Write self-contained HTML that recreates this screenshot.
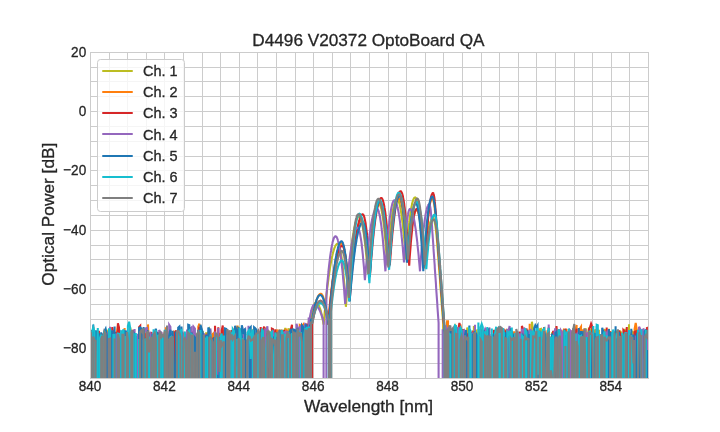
<!DOCTYPE html>
<html><head><meta charset="utf-8"><style>
html,body{margin:0;padding:0;background:#fff;width:720px;height:432px;overflow:hidden}
svg{display:block;will-change:transform}
text{font-family:"Liberation Sans",sans-serif;fill:#262626;stroke:#262626;stroke-width:0.3px}
</style></head><body>
<svg width="720" height="432" viewBox="0 0 720 432">
<rect x="0" y="0" width="720" height="432" fill="#fff"/>

<path d="M90.5 52V379M109.5 52V379M127.5 52V379M146.5 52V379M164.5 52V379M183.5 52V379M202.5 52V379M220.5 52V379M239.5 52V379M257.5 52V379M276.5 52V379M295.5 52V379M313.5 52V379M332.5 52V379M350.5 52V379M369.5 52V379M388.5 52V379M406.5 52V379M425.5 52V379M443.5 52V379M462.5 52V379M481.5 52V379M499.5 52V379M518.5 52V379M536.5 52V379M555.5 52V379M574.5 52V379M592.5 52V379M611.5 52V379M629.5 52V379M648.5 52V379M90 52.5H649M90 67.5H649M90 81.5H649M90 96.5H649M90 111.5H649M90 126.5H649M90 141.5H649M90 156.5H649M90 170.5H649M90 185.5H649M90 200.5H649M90 215.5H649M90 230.5H649M90 245.5H649M90 259.5H649M90 274.5H649M90 289.5H649M90 304.5H649M90 319.5H649M90 334.5H649M90 348.5H649M90 363.5H649M90 378.5H649" stroke="#cccccc" stroke-width="1" fill="none"/>
<defs><clipPath id="ax"><rect x="90" y="52" width="558" height="326"/></clipPath></defs><g clip-path="url(#ax)" fill="none" stroke-width="2.08" stroke-linejoin="miter" stroke-linecap="butt">
<path d="M90.0 6041.3 91.1 6041.3 92.2 367.3 93.3 331.9 94.5 6041.3 95.6 336.9 96.7 333.3 97.8 333.6 98.9 334.4 100.0 339.9 101.2 6041.3 102.3 6041.3 103.4 376.8 104.5 331.2 105.6 6041.3 106.7 329.8 107.9 336.7 109.0 6041.3 110.1 6041.3 111.2 332.0 112.3 6041.3 113.4 6041.3 114.6 338.1 115.7 337.2 116.8 6041.3 117.9 340.2 119.0 339.4 120.1 6041.3 121.2 6041.3 122.4 6041.3 123.5 6041.3 124.6 331.8 125.7 6041.3 126.8 331.9 127.9 336.3 129.1 6041.3 130.2 327.4 131.3 334.7 132.4 6041.3 133.5 6041.3 134.6 336.5 135.8 6041.3 136.9 6041.3 138.0 365.7 139.1 337.2 140.2 330.1 141.3 6041.3 142.5 336.5 143.6 6041.3 144.7 331.3 145.8 330.1 146.9 331.9 148.0 6041.3 149.1 6041.3 150.3 334.1 151.4 333.9 152.5 336.5 153.6 6041.3 154.7 332.2 155.8 338.9 157.0 6041.3 158.1 6041.3 159.2 333.2 160.3 6041.3 161.4 6041.3 162.5 6041.3 163.7 334.5 164.8 6041.3 165.9 335.1 167.0 335.0 168.1 6041.3 169.2 331.0 170.4 337.5 171.5 6041.3 172.6 6041.3 173.7 333.2 174.8 6041.3 175.9 6041.3 177.0 6041.3 178.2 340.0 179.3 334.9 180.4 6041.3 181.5 6041.3 182.6 6041.3 183.7 335.3 184.9 337.6 186.0 6041.3 187.1 333.3 188.2 6041.3 189.3 6041.3 190.4 6041.3 191.6 335.9 192.7 356.8 193.8 333.3 194.9 6041.3 196.0 333.3 197.1 6041.3 198.3 333.1 199.4 6041.3 200.5 6041.3 201.6 377.1 202.7 330.9 203.8 6041.3 204.9 6041.3 206.1 333.2 207.2 333.1 208.3 332.5 209.4 329.0 210.5 331.3 211.6 6041.3 212.8 336.9 213.9 334.4 215.0 332.2 216.1 6041.3 217.2 6041.3 218.3 333.7 219.5 338.0 220.6 338.7 221.7 336.8 222.8 6041.3 223.9 6041.3 225.0 339.6 226.2 333.9 227.3 348.5 228.4 335.2 229.5 337.0 230.6 333.7 231.7 6041.3 232.8 332.8 234.0 331.9 235.1 6041.3 236.2 327.3 237.3 330.3 238.4 6041.3 239.5 329.0 240.7 331.0 241.8 362.6 242.9 6041.3 244.0 336.8 245.1 6041.3 246.2 6041.3 247.4 6041.3 248.5 337.3 249.6 337.7 250.7 6041.3 251.8 363.5 252.9 331.9 254.1 333.8 255.2 6041.3 256.3 6041.3 257.4 335.1 258.5 337.0 259.6 6041.3 260.7 6041.3 261.9 334.4 263.0 336.1 264.1 6041.3 265.2 6041.3 266.3 337.2 267.4 335.0 268.6 6041.3 269.7 331.2 270.8 336.6 271.9 6041.3 273.0 6041.3 274.1 336.7 275.3 6041.3 276.4 6041.3 277.5 338.7 278.6 6041.3 279.7 6041.3 280.8 6041.3 282.0 334.1 283.1 6041.3 284.2 332.4 285.3 328.0 286.4 335.0 287.5 6041.3 288.6 328.3 289.8 332.5 290.9 6041.3 292.0 332.7 293.1 6041.3 294.2 330.6 295.3 359.6 296.5 331.3 297.6 6041.3 298.7 6041.3 299.8 331.1 300.9 332.4 302.0 6041.3 303.2 327.1 304.3 6041.3 305.4 6041.3 305.8 329.7 305.9 329.7 306.1 329.7 306.3 329.7 306.5 328.0 306.7 328.0 306.9 328.0 307.1 328.0 307.2 328.0 307.4 328.0 307.6 6041.3 307.8 6041.3 308.0 6041.3 308.2 6041.3 308.4 6041.3 308.5 6041.3 308.7 322.3 308.9 322.3 309.1 322.3 309.3 322.3 309.5 322.3 309.7 323.4 309.9 322.3 310.0 321.1 310.2 320.0 310.4 319.0 310.6 317.9 310.8 316.9 311.0 316.0 311.2 315.0 311.3 314.1 311.5 313.3 311.7 312.4 311.9 311.6 312.1 310.9 312.3 310.2 312.5 309.5 312.6 308.8 312.8 308.2 313.0 307.6 313.2 307.0 313.4 306.5 313.6 306.0 313.8 305.5 313.9 305.1 314.1 304.7 314.3 304.4 314.5 304.1 314.7 303.8 314.9 303.5 315.1 303.3 315.2 303.1 315.4 303.0 315.6 302.8 315.8 302.8 316.0 302.7 316.2 302.7 316.4 302.7 316.5 302.7 316.7 302.8 316.9 302.9 317.1 303.0 317.3 303.2 317.5 303.4 317.7 303.6 317.8 303.8 318.0 304.1 318.2 304.3 318.4 304.7 318.6 305.0 318.8 305.4 319.0 305.8 319.2 306.2 319.3 306.6 319.5 307.1 319.7 307.6 319.9 308.2 320.1 308.7 320.3 309.3 320.5 309.9 320.6 310.6 320.8 311.3 321.0 312.0 321.2 312.7 321.4 313.4 321.6 314.2 321.8 315.0 321.9 315.9 322.1 316.7 322.3 317.6 322.5 318.5 322.7 319.5 322.9 320.5 323.1 321.5 323.2 322.5 323.4 323.5 323.6 324.6 323.8 322.5 324.0 320.4 324.2 318.4 324.4 316.3 324.5 314.3 324.7 312.4 324.9 310.4 325.1 308.5 325.3 306.6 325.5 304.7 325.7 302.9 325.8 301.1 326.0 299.3 326.2 297.6 326.4 295.8 326.6 294.1 326.8 292.5 327.0 290.8 327.1 289.2 327.3 287.6 327.5 286.1 327.7 284.5 327.9 283.0 328.1 281.6 328.3 280.1 328.5 278.7 328.6 277.3 328.8 276.0 329.0 274.6 329.2 273.3 329.4 272.1 329.6 270.8 329.8 269.6 329.9 268.4 330.1 267.2 330.3 266.1 330.5 265.0 330.7 263.9 330.9 262.9 331.1 261.8 331.2 260.8 331.4 259.9 331.6 258.9 331.8 258.0 332.0 257.1 332.2 256.3 332.4 255.5 332.5 254.7 332.7 253.9 332.9 253.2 333.1 252.4 333.3 251.8 333.5 251.1 333.7 250.5 333.8 249.9 334.0 249.3 334.2 248.7 334.4 248.2 334.6 247.7 334.8 247.3 335.0 246.8 335.1 246.4 335.3 246.0 335.5 245.7 335.7 245.4 335.9 245.1 336.1 244.8 336.3 244.6 336.4 244.4 336.6 244.2 336.8 244.0 337.0 243.9 337.2 243.8 337.4 243.7 337.6 243.7 337.8 243.7 337.9 243.7 338.1 243.8 338.3 244.0 338.5 244.2 338.7 244.5 338.9 244.9 339.1 245.3 339.2 245.8 339.4 246.3 339.6 246.9 339.8 247.6 340.0 248.4 340.2 249.2 340.4 250.1 340.5 251.0 340.7 252.0 340.9 253.1 341.1 254.3 341.3 255.5 341.5 256.7 341.7 258.1 341.8 259.5 342.0 260.9 342.2 262.5 342.4 264.1 342.6 265.7 342.8 267.5 343.0 269.3 343.1 271.1 343.3 273.0 343.5 275.0 343.7 277.1 343.9 279.2 344.1 281.4 344.3 283.6 344.4 286.0 344.6 288.3 344.8 290.8 345.0 293.3 345.2 295.9 345.4 298.5 345.6 301.2 345.7 304.0 345.9 306.8 346.1 304.3 346.3 301.8 346.5 299.3 346.7 296.8 346.9 294.4 347.1 292.0 347.2 289.7 347.4 287.4 347.6 285.1 347.8 282.9 348.0 280.7 348.2 278.6 348.4 276.5 348.5 274.4 348.7 272.3 348.9 270.3 349.1 268.4 349.3 266.4 349.5 264.5 349.7 262.7 349.8 260.9 350.0 259.1 350.2 257.3 350.4 255.6 350.6 254.0 350.8 252.3 351.0 250.7 351.1 249.1 351.3 247.6 351.5 246.1 351.7 244.7 351.9 243.3 352.1 241.9 352.3 240.5 352.4 239.2 352.6 238.0 352.8 236.7 353.0 235.5 353.2 234.4 353.4 233.3 353.6 232.2 353.7 231.1 353.9 230.1 354.1 229.1 354.3 228.2 354.5 227.3 354.7 226.4 354.9 225.6 355.0 224.8 355.2 224.1 355.4 223.3 355.6 222.7 355.8 222.0 356.0 221.4 356.2 220.8 356.4 220.3 356.5 219.8 356.7 219.3 356.9 218.9 357.1 218.5 357.3 218.2 357.5 217.9 357.7 217.6 357.8 217.4 358.0 217.2 358.2 217.0 358.4 216.9 358.6 216.8 358.8 216.7 359.0 216.7 359.1 216.7 359.3 216.8 359.5 216.9 359.7 217.1 359.9 217.3 360.1 217.6 360.3 217.9 360.4 218.3 360.6 218.7 360.8 219.2 361.0 219.7 361.2 220.3 361.4 220.9 361.6 221.6 361.7 222.3 361.9 223.1 362.1 223.9 362.3 224.8 362.5 225.7 362.7 226.7 362.9 227.7 363.0 228.8 363.2 229.9 363.4 231.1 363.6 232.3 363.8 233.6 364.0 234.9 364.2 236.3 364.3 237.7 364.5 239.2 364.7 240.7 364.9 242.3 365.1 243.9 365.3 245.6 365.5 247.3 365.7 249.1 365.8 250.9 366.0 252.8 366.2 254.7 366.4 256.6 366.6 258.7 366.8 260.7 367.0 262.9 367.1 265.0 367.3 267.3 367.5 269.5 367.7 271.9 367.9 274.2 368.1 271.9 368.3 269.6 368.4 267.4 368.6 265.2 368.8 263.0 369.0 260.9 369.2 258.8 369.4 256.8 369.6 254.8 369.7 252.8 369.9 250.9 370.1 249.0 370.3 247.2 370.5 245.4 370.7 243.6 370.9 241.9 371.0 240.2 371.2 238.5 371.4 236.9 371.6 235.3 371.8 233.8 372.0 232.3 372.2 230.9 372.3 229.4 372.5 228.1 372.7 226.7 372.9 225.4 373.1 224.1 373.3 222.9 373.5 221.7 373.6 220.6 373.8 219.5 374.0 218.4 374.2 217.4 374.4 216.4 374.6 215.4 374.8 214.5 375.0 213.7 375.1 212.8 375.3 212.0 375.5 211.3 375.7 210.5 375.9 209.9 376.1 209.2 376.3 208.6 376.4 208.1 376.6 207.5 376.8 207.0 377.0 206.6 377.2 206.2 377.4 205.8 377.6 205.5 377.7 205.2 377.9 204.9 378.1 204.7 378.3 204.6 378.5 204.4 378.7 204.3 378.9 204.3 379.0 204.2 379.2 204.3 379.4 204.4 379.6 204.5 379.8 204.8 380.0 205.0 380.2 205.4 380.3 205.8 380.5 206.3 380.7 206.8 380.9 207.4 381.1 208.1 381.3 208.8 381.5 209.6 381.6 210.4 381.8 211.3 382.0 212.3 382.2 213.4 382.4 214.5 382.6 215.6 382.8 216.9 382.9 218.2 383.1 219.5 383.3 220.9 383.5 222.4 383.7 224.0 383.9 225.6 384.1 227.2 384.3 229.0 384.4 230.8 384.6 232.6 384.8 234.6 385.0 236.6 385.2 238.6 385.4 240.7 385.6 242.9 385.7 245.1 385.9 247.4 386.1 249.8 386.3 252.2 386.5 254.7 386.7 257.3 386.9 259.9 387.0 262.6 387.2 265.3 387.4 262.8 387.6 260.3 387.8 257.9 388.0 255.5 388.2 253.2 388.3 250.9 388.5 248.6 388.7 246.5 388.9 244.3 389.1 242.2 389.3 240.2 389.5 238.2 389.6 236.3 389.8 234.4 390.0 232.5 390.2 230.7 390.4 229.0 390.6 227.3 390.8 225.7 390.9 224.1 391.1 222.5 391.3 221.0 391.5 219.6 391.7 218.2 391.9 216.8 392.1 215.5 392.2 214.3 392.4 213.1 392.6 211.9 392.8 210.8 393.0 209.7 393.2 208.7 393.4 207.8 393.6 206.9 393.7 206.0 393.9 205.2 394.1 204.4 394.3 203.7 394.5 203.1 394.7 202.4 394.9 201.9 395.0 201.4 395.2 200.9 395.4 200.5 395.6 200.1 395.8 199.8 396.0 199.5 396.2 199.3 396.3 199.1 396.5 199.0 396.7 198.9 396.9 198.9 397.1 198.9 397.3 199.0 397.5 199.1 397.6 199.3 397.8 199.6 398.0 199.9 398.2 200.2 398.4 200.6 398.6 201.0 398.8 201.5 398.9 202.1 399.1 202.7 399.3 203.3 399.5 204.1 399.7 204.8 399.9 205.6 400.1 206.5 400.2 207.4 400.4 208.4 400.6 209.4 400.8 210.5 401.0 211.6 401.2 212.8 401.4 214.0 401.5 215.3 401.7 216.7 401.9 218.0 402.1 219.5 402.3 221.0 402.5 222.5 402.7 224.1 402.9 225.8 403.0 227.5 403.2 229.3 403.4 231.1 403.6 232.9 403.8 234.8 404.0 236.8 404.2 238.8 404.3 240.9 404.5 243.0 404.7 245.2 404.9 247.5 405.1 249.7 405.3 252.1 405.5 254.5 405.6 256.9 405.8 259.4 406.0 256.9 406.2 254.5 406.4 252.2 406.6 249.9 406.8 247.6 406.9 245.4 407.1 243.3 407.3 241.2 407.5 239.1 407.7 237.1 407.9 235.1 408.1 233.2 408.2 231.4 408.4 229.6 408.6 227.8 408.8 226.1 409.0 224.4 409.2 222.8 409.4 221.2 409.5 219.7 409.7 218.3 409.9 216.9 410.1 215.5 410.3 214.2 410.5 212.9 410.7 211.7 410.8 210.5 411.0 209.4 411.2 208.4 411.4 207.3 411.6 206.4 411.8 205.5 412.0 204.6 412.2 203.8 412.3 203.0 412.5 202.3 412.7 201.6 412.9 201.0 413.1 200.4 413.3 199.9 413.5 199.4 413.6 199.0 413.8 198.6 414.0 198.3 414.2 198.0 414.4 197.8 414.6 197.6 414.8 197.5 414.9 197.5 415.1 197.4 415.3 197.5 415.5 197.6 415.7 197.7 415.9 198.0 416.1 198.3 416.2 198.6 416.4 199.1 416.6 199.6 416.8 200.1 417.0 200.8 417.2 201.5 417.4 202.2 417.5 203.1 417.7 204.0 417.9 205.0 418.1 206.0 418.3 207.1 418.5 208.3 418.7 209.5 418.8 210.8 419.0 212.2 419.2 213.6 419.4 215.1 419.6 216.7 419.8 218.4 420.0 220.1 420.1 221.8 420.3 223.7 420.5 225.6 420.7 227.6 420.9 229.6 421.1 231.7 421.3 233.9 421.5 236.1 421.6 238.5 421.8 240.8 422.0 243.3 422.2 245.8 422.4 248.4 422.6 251.0 422.8 253.7 422.9 256.5 423.1 259.3 423.3 262.3 423.5 265.2 423.7 268.3 423.9 266.3 424.1 264.3 424.2 262.4 424.4 260.5 424.6 258.7 424.8 256.9 425.0 255.2 425.2 253.5 425.4 251.8 425.5 250.1 425.7 248.6 425.9 247.0 426.1 245.5 426.3 244.0 426.5 242.6 426.7 241.2 426.8 239.8 427.0 238.5 427.2 237.3 427.4 236.0 427.6 234.8 427.8 233.7 428.0 232.6 428.1 231.5 428.3 230.5 428.5 229.5 428.7 228.6 428.9 227.6 429.1 226.8 429.3 226.0 429.4 225.2 429.6 224.4 429.8 223.7 430.0 223.0 430.2 222.4 430.4 221.8 430.6 221.3 430.8 220.8 430.9 220.3 431.1 219.9 431.3 219.5 431.5 219.2 431.7 218.9 431.9 218.6 432.1 218.4 432.2 218.2 432.4 218.1 432.6 218.0 432.8 217.9 433.0 217.9 433.2 217.9 433.4 218.1 433.5 218.3 433.7 218.7 433.9 219.1 434.1 219.6 434.3 220.3 434.5 221.0 434.7 221.8 434.8 222.8 435.0 223.8 435.2 224.9 435.4 226.1 435.6 227.4 435.8 228.8 436.0 230.3 436.1 232.0 436.3 233.7 436.5 235.5 436.7 237.4 436.9 239.4 437.1 241.5 437.3 243.6 437.4 245.9 437.6 248.3 437.8 250.8 438.0 253.3 438.2 255.8 438.4 258.4 438.6 260.9 438.7 263.4 438.9 265.9 439.1 268.4 439.3 271.0 439.5 273.5 439.7 276.0 439.9 278.5 440.1 281.0 440.2 283.6 440.4 286.1 440.6 288.6 440.8 291.1 441.0 293.6 441.2 296.2 441.4 298.7 441.5 301.2 441.7 303.7 441.9 306.2 442.1 308.8 442.3 311.3 442.5 313.8 442.7 316.3 442.8 318.8 443.0 321.4 443.2 323.9 443.4 6041.3 443.6 6041.3 443.8 6041.3 444.0 6041.3 444.1 6041.3 444.3 6041.3 444.5 6041.3 444.7 6041.3 444.9 328.8 445.1 328.8 445.3 328.8 445.4 328.8 445.6 328.8 445.8 328.8 446.0 331.2 446.2 331.2 446.4 331.2 446.6 331.2 446.7 331.2 446.9 331.2 447.1 328.5 447.3 328.5 447.5 328.5 447.7 328.5 447.9 328.5 448.0 328.5 448.2 326.4 448.4 326.4 448.6 326.4 448.8 326.4 449.0 326.4 449.2 326.4 449.4 6041.3 449.5 6041.3 449.7 6041.3 449.9 6041.3 450.1 6041.3 450.3 6041.3 450.5 375.2 450.7 375.2 450.8 375.2 451.6 375.2 452.7 6041.3 453.8 328.1 454.9 6041.3 456.0 326.8 457.2 328.9 458.3 6041.3 459.4 339.1 460.5 6041.3 461.6 6041.3 462.7 332.5 463.9 329.2 465.0 6041.3 466.1 6041.3 467.2 327.6 468.3 331.4 469.4 6041.3 470.6 334.6 471.7 6041.3 472.8 6041.3 473.9 326.1 475.0 333.4 476.1 329.6 477.3 6041.3 478.4 329.1 479.5 331.1 480.6 329.8 481.7 6041.3 482.8 333.8 483.9 6041.3 485.1 6041.3 486.2 6041.3 487.3 6041.3 488.4 333.4 489.5 377.2 490.6 6041.3 491.8 6041.3 492.9 334.8 494.0 6041.3 495.1 332.0 496.2 331.3 497.3 6041.3 498.5 339.2 499.6 333.0 500.7 6041.3 501.8 341.6 502.9 6041.3 504.0 334.8 505.2 6041.3 506.3 6041.3 507.4 335.2 508.5 6041.3 509.6 6041.3 510.7 331.4 511.8 6041.3 513.0 338.6 514.1 337.5 515.2 334.1 516.3 6041.3 517.4 6041.3 518.5 338.1 519.7 341.3 520.8 6041.3 521.9 336.3 523.0 339.9 524.1 332.6 525.2 341.8 526.4 6041.3 527.5 6041.3 528.6 6041.3 529.7 332.3 530.8 6041.3 531.9 321.7 533.1 330.6 534.2 6041.3 535.3 6041.3 536.4 333.1 537.5 335.8 538.6 6041.3 539.7 329.3 540.9 328.9 542.0 6041.3 543.1 6041.3 544.2 336.6 545.3 337.1 546.4 6041.3 547.6 340.2 548.7 335.5 549.8 6041.3 550.9 6041.3 552.0 332.2 553.1 349.6 554.3 6041.3 555.4 373.2 556.5 327.4 557.6 6041.3 558.7 332.7 559.8 6041.3 561.0 6041.3 562.1 331.9 563.2 334.5 564.3 333.7 565.4 6041.3 566.5 333.5 567.6 334.5 568.8 370.1 569.9 334.3 571.0 333.3 572.1 332.7 573.2 370.3 574.3 6041.3 575.5 6041.3 576.6 340.5 577.7 338.4 578.8 336.3 579.9 352.3 581.0 332.5 582.2 329.8 583.3 6041.3 584.4 6041.3 585.5 328.3 586.6 332.1 587.7 6041.3 588.9 327.6 590.0 332.8 591.1 329.5 592.2 328.4 593.3 6041.3 594.4 330.4 595.5 330.1 596.7 331.8 597.8 6041.3 598.9 329.8 600.0 6041.3 601.1 336.3 602.2 6041.3 603.4 332.4 604.5 330.2 605.6 331.2 606.7 6041.3 607.8 6041.3 608.9 328.7 610.1 6041.3 611.2 362.0 612.3 6041.3 613.4 340.1 614.5 361.8 615.6 6041.3 616.8 332.6 617.9 334.2 619.0 6041.3 620.1 330.7 621.2 332.8 622.3 6041.3 623.4 6041.3 624.6 328.9 625.7 331.9 626.8 6041.3 627.9 6041.3 629.0 324.2 630.1 6041.3 631.3 333.2 632.4 331.8 633.5 332.9 634.6 6041.3 635.7 338.4 636.8 6041.3 638.0 6041.3 639.1 6041.3 640.2 6041.3 641.3 6041.3 642.4 331.5 643.5 335.5 644.7 6041.3 645.8 330.0 646.9 6041.3 648.0 333.7" stroke="#bcbd22"/>
<path d="M90.0 6041.3 91.1 6041.3 92.2 6041.3 93.3 326.8 94.5 6041.3 95.6 6041.3 96.7 343.8 97.8 6041.3 98.9 6041.3 100.0 6041.3 101.2 333.5 102.3 6041.3 103.4 339.6 104.5 333.2 105.6 331.0 106.7 335.5 107.9 6041.3 109.0 6041.3 110.1 331.0 111.2 6041.3 112.3 335.9 113.4 333.4 114.6 6041.3 115.7 6041.3 116.8 332.5 117.9 325.3 119.0 6041.3 120.1 333.6 121.2 337.4 122.4 335.5 123.5 6041.3 124.6 328.0 125.7 6041.3 126.8 6041.3 127.9 332.9 129.1 333.1 130.2 336.0 131.3 336.8 132.4 6041.3 133.5 330.8 134.6 6041.3 135.8 337.1 136.9 337.2 138.0 6041.3 139.1 327.5 140.2 329.8 141.3 381.7 142.5 6041.3 143.6 330.2 144.7 6041.3 145.8 336.8 146.9 6041.3 148.0 324.4 149.1 352.3 150.3 336.1 151.4 6041.3 152.5 6041.3 153.6 6041.3 154.7 334.2 155.8 335.6 157.0 6041.3 158.1 6041.3 159.2 372.4 160.3 6041.3 161.4 6041.3 162.5 334.4 163.7 6041.3 164.8 6041.3 165.9 327.3 167.0 6041.3 168.1 335.3 169.2 6041.3 170.4 333.8 171.5 6041.3 172.6 334.1 173.7 331.8 174.8 332.4 175.9 336.8 177.0 360.6 178.2 335.7 179.3 331.4 180.4 335.9 181.5 6041.3 182.6 335.1 183.7 333.9 184.9 6041.3 186.0 337.9 187.1 335.1 188.2 6041.3 189.3 328.9 190.4 376.8 191.6 6041.3 192.7 331.2 193.8 335.1 194.9 6041.3 196.0 6041.3 197.1 6041.3 198.3 326.6 199.4 323.7 200.5 6041.3 201.6 334.0 202.7 360.8 203.8 6041.3 204.9 335.3 206.1 335.6 207.2 6041.3 208.3 332.2 209.4 6041.3 210.5 6041.3 211.6 335.4 212.8 334.0 213.9 6041.3 215.0 337.2 216.1 6041.3 217.2 334.9 218.3 340.8 219.5 333.0 220.6 337.1 221.7 6041.3 222.8 329.8 223.9 6041.3 225.0 6041.3 226.2 330.5 227.3 330.6 228.4 336.5 229.5 331.5 230.6 6041.3 231.7 333.1 232.8 339.6 234.0 6041.3 235.1 6041.3 236.2 6041.3 237.3 325.6 238.4 6041.3 239.5 6041.3 240.7 337.0 241.8 6041.3 242.9 6041.3 244.0 334.7 245.1 330.9 246.2 6041.3 247.4 6041.3 248.5 334.8 249.6 6041.3 250.7 6041.3 251.8 337.1 252.9 332.7 254.1 6041.3 255.2 6041.3 256.3 337.6 257.4 330.3 258.5 334.9 259.6 6041.3 260.7 6041.3 261.9 6041.3 263.0 332.0 264.1 6041.3 265.2 327.6 266.3 332.0 267.4 6041.3 268.6 6041.3 269.7 334.8 270.8 341.0 271.9 337.2 273.0 6041.3 274.1 6041.3 275.3 334.4 276.4 332.0 277.5 329.6 278.6 6041.3 279.7 329.4 280.8 6041.3 282.0 330.7 283.1 331.0 284.2 366.2 285.3 6041.3 286.4 328.7 287.5 334.2 288.6 336.5 289.8 6041.3 290.9 6041.3 292.0 6041.3 293.1 332.9 294.2 330.5 295.3 6041.3 296.5 334.6 297.6 6041.3 298.7 6041.3 299.8 325.1 300.9 325.7 302.0 326.0 303.2 324.6 304.3 6041.3 305.4 328.7 305.8 6041.3 305.9 6041.3 306.1 6041.3 306.3 6041.3 306.5 6041.3 306.7 6041.3 306.9 6041.3 307.1 6041.3 307.2 6041.3 307.4 6041.3 307.6 325.1 307.8 325.1 308.0 325.1 308.2 325.1 308.4 325.1 308.5 325.1 308.7 6041.3 308.9 6041.3 309.1 6041.3 309.3 6041.3 309.5 6041.3 309.7 6041.3 309.9 6041.3 310.0 6041.3 310.2 6041.3 310.4 6041.3 310.6 6041.3 310.8 6041.3 311.0 320.0 311.2 320.0 311.3 320.0 311.5 323.4 311.7 322.3 311.9 321.1 312.1 320.0 312.3 318.9 312.5 317.8 312.6 316.7 312.8 315.7 313.0 314.7 313.2 313.7 313.4 312.8 313.6 311.8 313.8 310.9 313.9 310.0 314.1 309.2 314.3 308.3 314.5 307.5 314.7 306.7 314.9 305.9 315.1 305.2 315.2 304.5 315.4 303.8 315.6 303.1 315.8 302.4 316.0 301.8 316.2 301.2 316.4 300.6 316.5 300.1 316.7 299.5 316.9 299.0 317.1 298.5 317.3 298.1 317.5 297.6 317.7 297.2 317.8 296.8 318.0 296.5 318.2 296.1 318.4 295.8 318.6 295.5 318.8 295.2 319.0 295.0 319.2 294.8 319.3 294.6 319.5 294.4 319.7 294.2 319.9 294.1 320.1 294.0 320.3 293.9 320.5 293.8 320.6 293.8 320.8 293.8 321.0 293.8 321.2 293.9 321.4 294.0 321.6 294.1 321.8 294.3 321.9 294.5 322.1 294.8 322.3 295.1 322.5 295.4 322.7 295.8 322.9 296.2 323.1 296.7 323.2 297.2 323.4 297.8 323.6 298.4 323.8 299.0 324.0 299.7 324.2 300.4 324.4 301.1 324.5 301.9 324.7 302.7 324.9 303.6 325.1 304.5 325.3 305.5 325.5 306.5 325.7 307.5 325.8 308.6 326.0 309.7 326.2 310.8 326.4 312.0 326.6 313.3 326.8 314.6 327.0 315.9 327.1 317.2 327.3 318.6 327.5 320.1 327.7 321.5 327.9 323.1 328.1 324.6 328.3 322.4 328.5 320.3 328.6 318.2 328.8 316.1 329.0 314.0 329.2 312.0 329.4 310.0 329.6 308.0 329.8 306.1 329.9 304.2 330.1 302.3 330.3 300.4 330.5 298.6 330.7 296.8 330.9 295.0 331.1 293.3 331.2 291.6 331.4 289.9 331.6 288.3 331.8 286.6 332.0 285.1 332.2 283.5 332.4 282.0 332.5 280.5 332.7 279.0 332.9 277.6 333.1 276.2 333.3 274.8 333.5 273.4 333.7 272.1 333.8 270.8 334.0 269.6 334.2 268.3 334.4 267.1 334.6 266.0 334.8 264.8 335.0 263.7 335.1 262.6 335.3 261.6 335.5 260.5 335.7 259.5 335.9 258.6 336.1 257.6 336.3 256.7 336.4 255.9 336.6 255.0 336.8 254.2 337.0 253.4 337.2 252.7 337.4 251.9 337.6 251.2 337.8 250.6 337.9 249.9 338.1 249.3 338.3 248.7 338.5 248.2 338.7 247.7 338.9 247.2 339.1 246.7 339.2 246.3 339.4 245.9 339.6 245.5 339.8 245.2 340.0 244.9 340.2 244.6 340.4 244.3 340.5 244.1 340.7 243.9 340.9 243.8 341.1 243.6 341.3 243.5 341.5 243.4 341.7 243.4 341.8 243.4 342.0 243.4 342.2 243.5 342.4 243.7 342.6 244.0 342.8 244.3 343.0 244.7 343.1 245.1 343.3 245.7 343.5 246.3 343.7 247.0 343.9 247.7 344.1 248.6 344.3 249.5 344.4 250.4 344.6 251.5 344.8 252.6 345.0 253.8 345.2 255.0 345.4 256.4 345.6 257.8 345.7 259.2 345.9 260.8 346.1 262.4 346.3 264.1 346.5 265.9 346.7 267.7 346.9 269.6 347.1 271.6 347.2 273.6 347.4 275.7 347.6 277.9 347.8 280.2 348.0 282.5 348.2 284.9 348.4 287.4 348.5 290.0 348.7 292.6 348.9 295.3 349.1 298.1 349.3 300.9 349.5 298.5 349.7 296.1 349.8 293.7 350.0 291.4 350.2 289.1 350.4 286.9 350.6 284.6 350.8 282.5 351.0 280.3 351.1 278.2 351.3 276.2 351.5 274.1 351.7 272.2 351.9 270.2 352.1 268.3 352.3 266.4 352.4 264.6 352.6 262.8 352.8 261.0 353.0 259.3 353.2 257.6 353.4 255.9 353.6 254.3 353.7 252.7 353.9 251.2 354.1 249.7 354.3 248.2 354.5 246.8 354.7 245.4 354.9 244.0 355.0 242.7 355.2 241.4 355.4 240.2 355.6 239.0 355.8 237.8 356.0 236.7 356.2 235.6 356.4 234.5 356.5 233.5 356.7 232.5 356.9 231.6 357.1 230.7 357.3 229.8 357.5 229.0 357.7 228.2 357.8 227.4 358.0 226.7 358.2 226.0 358.4 225.3 358.6 224.7 358.8 224.1 359.0 223.6 359.1 223.1 359.3 222.6 359.5 222.2 359.7 221.8 359.9 221.5 360.1 221.1 360.3 220.9 360.4 220.6 360.6 220.4 360.8 220.3 361.0 220.1 361.2 220.0 361.4 220.0 361.6 220.0 361.7 220.0 361.9 220.1 362.1 220.3 362.3 220.5 362.5 220.8 362.7 221.2 362.9 221.6 363.0 222.1 363.2 222.7 363.4 223.4 363.6 224.1 363.8 224.8 364.0 225.7 364.2 226.6 364.3 227.6 364.5 228.6 364.7 229.8 364.9 230.9 365.1 232.2 365.3 233.5 365.5 234.9 365.7 236.4 365.8 237.9 366.0 239.5 366.2 241.2 366.4 242.9 366.6 244.7 366.8 246.5 367.0 248.5 367.1 250.5 367.3 252.6 367.5 254.7 367.7 256.9 367.9 259.2 368.1 261.5 368.3 263.9 368.4 266.4 368.6 268.9 368.8 271.5 369.0 274.2 369.2 271.7 369.4 269.3 369.6 266.9 369.7 264.5 369.9 262.2 370.1 259.9 370.3 257.7 370.5 255.5 370.7 253.4 370.9 251.3 371.0 249.2 371.2 247.2 371.4 245.3 371.6 243.3 371.8 241.5 372.0 239.7 372.2 237.9 372.3 236.1 372.5 234.5 372.7 232.8 372.9 231.2 373.1 229.7 373.3 228.2 373.5 226.7 373.6 225.3 373.8 223.9 374.0 222.6 374.2 221.3 374.4 220.1 374.6 218.9 374.8 217.7 375.0 216.6 375.1 215.6 375.3 214.5 375.5 213.6 375.7 212.7 375.9 211.8 376.1 210.9 376.3 210.2 376.4 209.4 376.6 208.7 376.8 208.1 377.0 207.5 377.2 206.9 377.4 206.4 377.6 205.9 377.7 205.5 377.9 205.1 378.1 204.8 378.3 204.5 378.5 204.2 378.7 204.0 378.9 203.9 379.0 203.7 379.2 203.7 379.4 203.7 379.6 203.7 379.8 203.8 380.0 203.9 380.2 204.0 380.3 204.3 380.5 204.5 380.7 204.9 380.9 205.2 381.1 205.7 381.3 206.1 381.5 206.6 381.6 207.2 381.8 207.8 382.0 208.5 382.2 209.2 382.4 210.0 382.6 210.8 382.8 211.6 382.9 212.6 383.1 213.5 383.3 214.5 383.5 215.6 383.7 216.7 383.9 217.9 384.1 219.1 384.3 220.3 384.4 221.6 384.6 223.0 384.8 224.4 385.0 225.9 385.2 227.4 385.4 228.9 385.6 230.5 385.7 232.2 385.9 233.9 386.1 235.6 386.3 237.4 386.5 239.3 386.7 241.2 386.9 243.1 387.0 245.1 387.2 247.2 387.4 249.3 387.6 251.4 387.8 253.6 388.0 255.9 388.2 258.1 388.3 260.5 388.5 262.9 388.7 265.3 388.9 262.9 389.1 260.5 389.3 258.1 389.5 255.8 389.6 253.5 389.8 251.3 390.0 249.2 390.2 247.0 390.4 244.9 390.6 242.9 390.8 240.9 390.9 239.0 391.1 237.1 391.3 235.2 391.5 233.4 391.7 231.6 391.9 229.9 392.1 228.3 392.2 226.6 392.4 225.1 392.6 223.5 392.8 222.0 393.0 220.6 393.2 219.2 393.4 217.9 393.6 216.5 393.7 215.3 393.9 214.1 394.1 212.9 394.3 211.8 394.5 210.7 394.7 209.7 394.9 208.7 395.0 207.8 395.2 206.9 395.4 206.0 395.6 205.2 395.8 204.5 396.0 203.8 396.2 203.1 396.3 202.5 396.5 201.9 396.7 201.4 396.9 200.9 397.1 200.5 397.3 200.1 397.5 199.7 397.6 199.4 397.8 199.2 398.0 199.0 398.2 198.8 398.4 198.7 398.6 198.6 398.8 198.6 398.9 198.6 399.1 198.7 399.3 198.8 399.5 199.0 399.7 199.2 399.9 199.5 400.1 199.9 400.2 200.2 400.4 200.7 400.6 201.2 400.8 201.7 401.0 202.3 401.2 202.9 401.4 203.6 401.5 204.3 401.7 205.1 401.9 206.0 402.1 206.9 402.3 207.8 402.5 208.8 402.7 209.9 402.9 211.0 403.0 212.1 403.2 213.3 403.4 214.5 403.6 215.8 403.8 217.2 404.0 218.6 404.2 220.1 404.3 221.6 404.5 223.1 404.7 224.7 404.9 226.4 405.1 228.1 405.3 229.8 405.5 231.7 405.6 233.5 405.8 235.4 406.0 237.4 406.2 239.4 406.4 241.5 406.6 243.6 406.8 245.8 406.9 248.0 407.1 250.2 407.3 252.6 407.5 254.9 407.7 257.4 407.9 259.8 408.1 262.4 408.2 260.1 408.4 257.9 408.6 255.7 408.8 253.6 409.0 251.6 409.2 249.6 409.4 247.6 409.5 245.7 409.7 243.8 409.9 242.0 410.1 240.3 410.3 238.6 410.5 236.9 410.7 235.3 410.8 233.7 411.0 232.2 411.2 230.7 411.4 229.3 411.6 228.0 411.8 226.6 412.0 225.4 412.2 224.2 412.3 223.0 412.5 221.9 412.7 220.8 412.9 219.8 413.1 218.8 413.3 217.9 413.5 217.0 413.6 216.2 413.8 215.5 414.0 214.7 414.2 214.1 414.4 213.5 414.6 212.9 414.8 212.4 414.9 211.9 415.1 211.5 415.3 211.1 415.5 210.8 415.7 210.5 415.9 210.3 416.1 210.1 416.2 210.0 416.4 209.9 416.6 209.9 416.8 209.9 417.0 210.0 417.2 210.2 417.4 210.5 417.5 210.8 417.7 211.2 417.9 211.7 418.1 212.2 418.3 212.8 418.5 213.5 418.7 214.3 418.8 215.1 419.0 216.0 419.2 217.0 419.4 218.1 419.6 219.2 419.8 220.4 420.0 221.7 420.1 223.1 420.3 224.5 420.5 226.0 420.7 227.5 420.9 229.2 421.1 230.9 421.3 232.7 421.5 234.6 421.6 236.5 421.8 238.5 422.0 240.6 422.2 242.7 422.4 245.0 422.6 247.3 422.8 249.6 422.9 252.1 423.1 254.6 423.3 257.2 423.5 259.9 423.7 262.6 423.9 265.4 424.1 268.3 424.2 265.1 424.4 262.1 424.6 259.1 424.8 256.1 425.0 253.3 425.2 250.5 425.4 247.8 425.5 245.2 425.7 242.6 425.9 240.1 426.1 237.7 426.3 235.3 426.5 233.1 426.7 230.8 426.8 228.7 427.0 226.7 427.2 224.7 427.4 222.7 427.6 220.9 427.8 219.1 428.0 217.4 428.1 215.8 428.3 214.3 428.5 212.8 428.7 211.4 428.9 210.0 429.1 208.8 429.3 207.6 429.4 206.4 429.6 205.4 429.8 204.4 430.0 203.5 430.2 202.7 430.4 201.9 430.6 201.2 430.8 200.6 430.9 200.1 431.1 199.6 431.3 199.2 431.5 198.9 431.7 198.6 431.9 198.5 432.1 198.4 432.2 198.3 432.4 198.4 432.6 198.5 432.8 198.8 433.0 199.2 433.2 199.7 433.4 200.3 433.5 201.1 433.7 201.9 433.9 202.9 434.1 204.0 434.3 205.1 434.5 206.4 434.7 207.8 434.8 209.4 435.0 211.0 435.2 212.7 435.4 214.6 435.6 216.6 435.8 218.7 436.0 220.9 436.1 223.2 436.3 225.6 436.5 228.1 436.7 230.6 436.9 233.2 437.1 235.7 437.3 238.2 437.4 240.7 437.6 243.2 437.8 245.8 438.0 248.3 438.2 250.8 438.4 253.3 438.6 255.8 438.7 258.4 438.9 260.9 439.1 263.4 439.3 265.9 439.5 268.4 439.7 271.0 439.9 273.5 440.1 276.0 440.2 278.5 440.4 281.0 440.6 283.6 440.8 286.1 441.0 288.6 441.2 291.1 441.4 293.6 441.5 296.2 441.7 298.7 441.9 301.2 442.1 303.7 442.3 306.2 442.5 308.8 442.7 311.3 442.8 313.8 443.0 316.3 443.2 318.8 443.4 321.4 443.6 323.9 443.8 328.0 444.0 328.0 444.1 328.0 444.3 328.0 444.5 328.0 444.7 328.0 444.9 6041.3 445.1 6041.3 445.3 6041.3 445.4 6041.3 445.6 6041.3 445.8 6041.3 446.0 326.7 446.2 326.7 446.4 326.7 446.6 326.7 446.7 326.7 446.9 326.7 447.1 321.4 447.3 321.4 447.5 321.4 447.7 321.4 447.9 321.4 448.0 321.4 448.2 6041.3 448.4 6041.3 448.6 6041.3 448.8 6041.3 449.0 6041.3 449.2 6041.3 449.4 336.0 449.5 336.0 449.7 336.0 449.9 336.0 450.1 336.0 450.3 336.0 450.5 6041.3 450.7 6041.3 450.8 6041.3 451.6 6041.3 452.7 6041.3 453.8 336.1 454.9 333.6 456.0 6041.3 457.2 328.8 458.3 6041.3 459.4 328.7 460.5 327.2 461.6 6041.3 462.7 6041.3 463.9 335.3 465.0 6041.3 466.1 335.7 467.2 334.7 468.3 335.6 469.4 6041.3 470.6 343.9 471.7 6041.3 472.8 334.1 473.9 335.1 475.0 6041.3 476.1 6041.3 477.3 332.6 478.4 6041.3 479.5 6041.3 480.6 6041.3 481.7 6041.3 482.8 332.0 483.9 6041.3 485.1 336.7 486.2 6041.3 487.3 6041.3 488.4 337.1 489.5 6041.3 490.6 6041.3 491.8 6041.3 492.9 337.5 494.0 6041.3 495.1 333.8 496.2 6041.3 497.3 332.4 498.5 333.8 499.6 6041.3 500.7 6041.3 501.8 333.1 502.9 328.9 504.0 6041.3 505.2 331.6 506.3 330.1 507.4 332.1 508.5 6041.3 509.6 337.2 510.7 334.2 511.8 6041.3 513.0 6041.3 514.1 331.3 515.2 338.3 516.3 6041.3 517.4 6041.3 518.5 335.0 519.7 338.1 520.8 6041.3 521.9 6041.3 523.0 6041.3 524.1 332.0 525.2 332.2 526.4 6041.3 527.5 6041.3 528.6 6041.3 529.7 323.8 530.8 6041.3 531.9 6041.3 533.1 335.7 534.2 338.9 535.3 6041.3 536.4 6041.3 537.5 336.9 538.6 6041.3 539.7 6041.3 540.9 6041.3 542.0 332.7 543.1 331.5 544.2 330.4 545.3 375.2 546.4 338.2 547.6 330.1 548.7 6041.3 549.8 6041.3 550.9 336.6 552.0 6041.3 553.1 335.2 554.3 339.3 555.4 6041.3 556.5 6041.3 557.6 6041.3 558.7 6041.3 559.8 333.7 561.0 6041.3 562.1 6041.3 563.2 331.0 564.3 328.7 565.4 360.0 566.5 329.0 567.6 6041.3 568.8 367.4 569.9 6041.3 571.0 330.5 572.1 6041.3 573.2 330.1 574.3 6041.3 575.5 329.9 576.6 324.9 577.7 6041.3 578.8 6041.3 579.9 328.5 581.0 326.8 582.2 6041.3 583.3 329.2 584.4 374.4 585.5 338.2 586.6 337.1 587.7 6041.3 588.9 337.6 590.0 336.5 591.1 6041.3 592.2 334.1 593.3 334.8 594.4 333.0 595.5 6041.3 596.7 333.5 597.8 337.8 598.9 334.6 600.0 6041.3 601.1 6041.3 602.2 6041.3 603.4 332.8 604.5 6041.3 605.6 329.5 606.7 334.8 607.8 335.7 608.9 6041.3 610.1 331.6 611.2 333.7 612.3 6041.3 613.4 335.5 614.5 331.5 615.6 6041.3 616.8 6041.3 617.9 381.9 619.0 333.3 620.1 333.4 621.2 337.3 622.3 336.7 623.4 6041.3 624.6 336.2 625.7 350.8 626.8 381.3 627.9 332.1 629.0 334.7 630.1 6041.3 631.3 333.8 632.4 6041.3 633.5 6041.3 634.6 329.0 635.7 322.9 636.8 330.2 638.0 6041.3 639.1 334.2 640.2 6041.3 641.3 6041.3 642.4 336.9 643.5 338.5 644.7 369.4 645.8 6041.3 646.9 338.7 648.0 337.8" stroke="#ff7f0e"/>
<path d="M90.0 331.1 91.1 331.1 92.2 6041.3 93.3 335.8 94.5 6041.3 95.6 6041.3 96.7 336.2 97.8 6041.3 98.9 330.7 100.0 6041.3 101.2 6041.3 102.3 334.4 103.4 334.7 104.5 333.7 105.6 6041.3 106.7 6041.3 107.9 6041.3 109.0 6041.3 110.1 328.0 111.2 6041.3 112.3 327.1 113.4 333.5 114.6 6041.3 115.7 331.7 116.8 6041.3 117.9 323.3 119.0 327.3 120.1 6041.3 121.2 6041.3 122.4 338.8 123.5 6041.3 124.6 332.5 125.7 337.2 126.8 335.5 127.9 6041.3 129.1 335.3 130.2 6041.3 131.3 332.9 132.4 6041.3 133.5 329.7 134.6 6041.3 135.8 6041.3 136.9 6041.3 138.0 6041.3 139.1 327.1 140.2 325.9 141.3 6041.3 142.5 6041.3 143.6 336.5 144.7 333.0 145.8 6041.3 146.9 6041.3 148.0 6041.3 149.1 333.0 150.3 336.0 151.4 332.0 152.5 352.2 153.6 6041.3 154.7 335.8 155.8 332.3 157.0 6041.3 158.1 332.0 159.2 6041.3 160.3 335.3 161.4 334.4 162.5 6041.3 163.7 361.6 164.8 332.4 165.9 6041.3 167.0 6041.3 168.1 6041.3 169.2 6041.3 170.4 333.4 171.5 337.4 172.6 6041.3 173.7 6041.3 174.8 333.3 175.9 330.5 177.0 6041.3 178.2 329.3 179.3 6041.3 180.4 333.1 181.5 336.6 182.6 6041.3 183.7 6041.3 184.9 6041.3 186.0 334.2 187.1 337.0 188.2 334.7 189.3 6041.3 190.4 6041.3 191.6 332.1 192.7 6041.3 193.8 6041.3 194.9 6041.3 196.0 336.1 197.1 6041.3 198.3 335.1 199.4 327.0 200.5 6041.3 201.6 336.5 202.7 337.2 203.8 377.3 204.9 336.8 206.1 335.6 207.2 6041.3 208.3 334.7 209.4 374.5 210.5 6041.3 211.6 339.7 212.8 338.8 213.9 6041.3 215.0 325.8 216.1 351.4 217.2 6041.3 218.3 327.3 219.5 383.4 220.6 6041.3 221.7 330.3 222.8 325.4 223.9 6041.3 225.0 6041.3 226.2 6041.3 227.3 330.8 228.4 6041.3 229.5 333.6 230.6 6041.3 231.7 330.0 232.8 333.2 234.0 333.2 235.1 326.8 236.2 6041.3 237.3 335.9 238.4 329.1 239.5 6041.3 240.7 335.8 241.8 6041.3 242.9 6041.3 244.0 6041.3 245.1 6041.3 246.2 339.6 247.4 6041.3 248.5 6041.3 249.6 6041.3 250.7 6041.3 251.8 354.6 252.9 329.9 254.1 6041.3 255.2 6041.3 256.3 6041.3 257.4 331.3 258.5 6041.3 259.6 6041.3 260.7 326.9 261.9 6041.3 263.0 330.5 264.1 326.5 265.2 383.5 266.3 332.2 267.4 329.3 268.6 6041.3 269.7 334.7 270.8 6041.3 271.9 328.6 273.0 329.1 274.1 366.7 275.3 329.2 276.4 6041.3 277.5 331.9 278.6 6041.3 279.7 337.2 280.8 6041.3 282.0 332.9 283.1 6041.3 284.2 329.8 285.3 6041.3 286.4 6041.3 287.5 330.8 288.6 6041.3 289.8 380.5 290.9 329.2 292.0 324.8 293.1 6041.3 294.2 334.7 295.3 335.4 296.5 6041.3 297.6 6041.3 298.7 6041.3 299.8 326.8 300.9 6041.3 302.0 326.3 303.2 328.1 304.3 327.4 305.4 6041.3 305.8 6041.3 305.9 6041.3 306.1 6041.3 306.3 6041.3 306.5 324.6 306.7 324.6 306.9 324.6 307.1 324.6 307.2 324.6 307.4 324.6 307.6 326.7 307.8 326.7 308.0 326.7 308.2 326.7 308.4 326.7 308.5 326.7 308.7 330.5 308.9 330.5 309.1 330.5 309.3 330.5 309.5 330.5 309.7 330.5 309.9 6041.3 310.0 6041.3 310.2 6041.3 310.4 6041.3 310.6 6041.3 310.8 6041.3 311.0 6041.3 311.2 6041.3 311.3 6041.3 311.5 6041.3 311.7 6041.3 311.9 6041.3 312.1 319.0 312.3 323.6 312.5 322.7 312.6 321.7 312.8 320.8 313.0 319.8 313.2 319.0 313.4 318.1 313.6 317.2 313.8 316.4 313.9 315.6 314.1 314.8 314.3 314.1 314.5 313.3 314.7 312.6 314.9 311.9 315.1 311.2 315.2 310.6 315.4 309.9 315.6 309.3 315.8 308.7 316.0 308.2 316.2 307.6 316.4 307.1 316.5 306.6 316.7 306.1 316.9 305.6 317.1 305.2 317.3 304.8 317.5 304.4 317.7 304.0 317.8 303.7 318.0 303.3 318.2 303.0 318.4 302.7 318.6 302.5 318.8 302.2 319.0 302.0 319.2 301.8 319.3 301.6 319.5 301.4 319.7 301.3 319.9 301.2 320.1 301.1 320.3 301.0 320.5 301.0 320.6 300.9 320.8 300.9 321.0 300.9 321.2 301.0 321.4 301.0 321.6 301.2 321.8 301.3 321.9 301.5 322.1 301.7 322.3 301.9 322.5 302.2 322.7 302.5 322.9 302.8 323.1 303.2 323.2 303.5 323.4 304.0 323.6 304.4 323.8 304.9 324.0 305.4 324.2 306.0 324.4 306.5 324.5 307.1 324.7 307.8 324.9 308.5 325.1 309.2 325.3 309.9 325.5 310.7 325.7 311.5 325.8 312.3 326.0 313.1 326.2 314.0 326.4 314.9 326.6 315.9 326.8 316.9 327.0 317.9 327.1 318.9 327.3 320.0 327.5 321.1 327.7 322.3 327.9 323.4 328.1 324.6 328.3 322.6 328.5 320.5 328.6 318.5 328.8 316.5 329.0 314.6 329.2 312.7 329.4 310.8 329.6 308.9 329.8 307.1 329.9 305.2 330.1 303.4 330.3 301.7 330.5 300.0 330.7 298.2 330.9 296.6 331.1 294.9 331.2 293.3 331.4 291.7 331.6 290.1 331.8 288.6 332.0 287.1 332.2 285.6 332.4 284.1 332.5 282.7 332.7 281.3 332.9 279.9 333.1 278.5 333.3 277.2 333.5 275.9 333.7 274.7 333.8 273.4 334.0 272.2 334.2 271.0 334.4 269.8 334.6 268.7 334.8 267.6 335.0 266.5 335.1 265.5 335.3 264.5 335.5 263.5 335.7 262.5 335.9 261.5 336.1 260.6 336.3 259.7 336.4 258.9 336.6 258.0 336.8 257.2 337.0 256.5 337.2 255.7 337.4 255.0 337.6 254.3 337.8 253.6 337.9 253.0 338.1 252.4 338.3 251.8 338.5 251.2 338.7 250.7 338.9 250.2 339.1 249.7 339.2 249.3 339.4 248.8 339.6 248.4 339.8 248.1 340.0 247.7 340.2 247.4 340.4 247.1 340.5 246.9 340.7 246.6 340.9 246.4 341.1 246.2 341.3 246.1 341.5 246.0 341.7 245.9 341.8 245.8 342.0 245.8 342.2 245.8 342.4 245.8 342.6 245.9 342.8 246.1 343.0 246.3 343.1 246.6 343.3 247.0 343.5 247.4 343.7 248.0 343.9 248.5 344.1 249.2 344.3 249.9 344.4 250.7 344.6 251.6 344.8 252.5 345.0 253.5 345.2 254.6 345.4 255.7 345.6 256.9 345.7 258.2 345.9 259.5 346.1 261.0 346.3 262.4 346.5 264.0 346.7 265.6 346.9 267.3 347.1 269.1 347.2 270.9 347.4 272.8 347.6 274.7 347.8 276.8 348.0 278.9 348.2 281.1 348.4 283.3 348.5 285.6 348.7 288.0 348.9 290.4 349.1 292.9 349.3 295.5 349.5 298.2 349.7 300.9 349.8 298.5 350.0 296.0 350.2 293.6 350.4 291.3 350.6 289.0 350.8 286.7 351.0 284.5 351.1 282.2 351.3 280.1 351.5 277.9 351.7 275.8 351.9 273.8 352.1 271.7 352.3 269.7 352.4 267.8 352.6 265.9 352.8 264.0 353.0 262.1 353.2 260.3 353.4 258.5 353.6 256.8 353.7 255.0 353.9 253.4 354.1 251.7 354.3 250.1 354.5 248.5 354.7 247.0 354.9 245.5 355.0 244.0 355.2 242.6 355.4 241.2 355.6 239.8 355.8 238.5 356.0 237.2 356.2 236.0 356.4 234.8 356.5 233.6 356.7 232.4 356.9 231.3 357.1 230.2 357.3 229.2 357.5 228.2 357.7 227.2 357.8 226.3 358.0 225.4 358.2 224.5 358.4 223.7 358.6 222.9 358.8 222.1 359.0 221.4 359.1 220.7 359.3 220.1 359.5 219.4 359.7 218.9 359.9 218.3 360.1 217.8 360.3 217.3 360.4 216.9 360.6 216.5 360.8 216.1 361.0 215.8 361.2 215.5 361.4 215.2 361.6 215.0 361.7 214.8 361.9 214.6 362.1 214.5 362.3 214.4 362.5 214.3 362.7 214.3 362.9 214.4 363.0 214.5 363.2 214.7 363.4 214.9 363.6 215.3 363.8 215.7 364.0 216.2 364.2 216.7 364.3 217.4 364.5 218.1 364.7 218.9 364.9 219.7 365.1 220.7 365.3 221.7 365.5 222.7 365.7 223.9 365.8 225.1 366.0 226.5 366.2 227.8 366.4 229.3 366.6 230.8 366.8 232.4 367.0 234.1 367.1 235.9 367.3 237.7 367.5 239.6 367.7 241.6 367.9 243.7 368.1 245.8 368.3 248.0 368.4 250.3 368.6 252.7 368.8 255.1 369.0 257.6 369.2 260.2 369.4 262.8 369.6 265.6 369.7 268.4 369.9 271.3 370.1 274.2 370.3 271.7 370.5 269.2 370.7 266.8 370.9 264.4 371.0 262.1 371.2 259.7 371.4 257.5 371.6 255.3 371.8 253.1 372.0 250.9 372.2 248.8 372.3 246.8 372.5 244.8 372.7 242.8 372.9 240.9 373.1 239.0 373.3 237.2 373.5 235.4 373.6 233.6 373.8 231.9 374.0 230.2 374.2 228.6 374.4 227.0 374.6 225.5 374.8 223.9 375.0 222.5 375.1 221.1 375.3 219.7 375.5 218.4 375.7 217.1 375.9 215.8 376.1 214.6 376.3 213.5 376.4 212.3 376.6 211.2 376.8 210.2 377.0 209.2 377.2 208.3 377.4 207.4 377.6 206.5 377.7 205.7 377.9 204.9 378.1 204.1 378.3 203.4 378.5 202.8 378.7 202.2 378.9 201.6 379.0 201.1 379.2 200.6 379.4 200.1 379.6 199.7 379.8 199.4 380.0 199.1 380.2 198.8 380.3 198.5 380.5 198.4 380.7 198.2 380.9 198.1 381.1 198.0 381.3 198.0 381.5 198.1 381.6 198.1 381.8 198.3 382.0 198.5 382.2 198.8 382.4 199.2 382.6 199.6 382.8 200.1 382.9 200.6 383.1 201.2 383.3 201.9 383.5 202.6 383.7 203.4 383.9 204.3 384.1 205.2 384.3 206.2 384.4 207.2 384.6 208.3 384.8 209.5 385.0 210.7 385.2 212.0 385.4 213.4 385.6 214.8 385.7 216.3 385.9 217.9 386.1 219.5 386.3 221.2 386.5 223.0 386.7 224.8 386.9 226.6 387.0 228.6 387.2 230.6 387.4 232.7 387.6 234.8 387.8 237.0 388.0 239.2 388.2 241.6 388.3 244.0 388.5 246.4 388.7 248.9 388.9 251.5 389.1 254.1 389.3 256.8 389.5 259.6 389.6 262.4 389.8 265.3 390.0 262.8 390.2 260.3 390.4 257.9 390.6 255.5 390.8 253.1 390.9 250.8 391.1 248.5 391.3 246.3 391.5 244.1 391.7 242.0 391.9 239.9 392.1 237.8 392.2 235.8 392.4 233.9 392.6 231.9 392.8 230.1 393.0 228.2 393.2 226.5 393.4 224.7 393.6 223.0 393.7 221.4 393.9 219.8 394.1 218.2 394.3 216.7 394.5 215.2 394.7 213.8 394.9 212.4 395.0 211.0 395.2 209.7 395.4 208.5 395.6 207.3 395.8 206.1 396.0 205.0 396.2 203.9 396.3 202.9 396.5 201.9 396.7 200.9 396.9 200.0 397.1 199.2 397.3 198.3 397.5 197.6 397.6 196.8 397.8 196.2 398.0 195.5 398.2 194.9 398.4 194.4 398.6 193.9 398.8 193.4 398.9 193.0 399.1 192.6 399.3 192.3 399.5 192.0 399.7 191.8 399.9 191.6 400.1 191.4 400.2 191.3 400.4 191.2 400.6 191.2 400.8 191.2 401.0 191.3 401.2 191.5 401.4 191.8 401.5 192.1 401.7 192.5 401.9 192.9 402.1 193.5 402.3 194.0 402.5 194.7 402.7 195.5 402.9 196.3 403.0 197.1 403.2 198.1 403.4 199.1 403.6 200.2 403.8 201.4 404.0 202.6 404.2 203.9 404.3 205.3 404.5 206.7 404.7 208.2 404.9 209.8 405.1 211.5 405.3 213.2 405.5 215.0 405.6 216.8 405.8 218.8 406.0 220.8 406.2 222.9 406.4 225.0 406.6 227.2 406.8 229.5 406.9 231.9 407.1 234.3 407.3 236.8 407.5 239.3 407.7 242.0 407.9 244.7 408.1 247.5 408.2 250.3 408.4 253.2 408.6 256.2 408.8 259.3 409.0 262.4 409.2 265.6 409.4 262.8 409.5 260.1 409.7 257.4 409.9 254.9 410.1 252.3 410.3 249.9 410.5 247.5 410.7 245.2 410.8 243.0 411.0 240.8 411.2 238.8 411.4 236.7 411.6 234.8 411.8 232.9 412.0 231.1 412.2 229.4 412.3 227.7 412.5 226.1 412.7 224.6 412.9 223.1 413.1 221.8 413.3 220.5 413.5 219.2 413.6 218.1 413.8 217.0 414.0 215.9 414.2 215.0 414.4 214.1 414.6 213.3 414.8 212.5 414.9 211.9 415.1 211.3 415.3 210.7 415.5 210.3 415.7 209.9 415.9 209.6 416.1 209.3 416.2 209.1 416.4 209.0 416.6 209.0 416.8 209.0 417.0 209.1 417.2 209.3 417.4 209.5 417.5 209.7 417.7 210.0 417.9 210.4 418.1 210.9 418.3 211.3 418.5 211.9 418.7 212.5 418.8 213.2 419.0 213.9 419.2 214.7 419.4 215.5 419.6 216.4 419.8 217.4 420.0 218.4 420.1 219.5 420.3 220.6 420.5 221.8 420.7 223.1 420.9 224.4 421.1 225.8 421.3 227.2 421.5 228.7 421.6 230.2 421.8 231.8 422.0 233.5 422.2 235.2 422.4 237.0 422.6 238.8 422.8 240.7 422.9 242.6 423.1 244.6 423.3 246.7 423.5 248.8 423.7 251.0 423.9 253.3 424.1 255.5 424.2 257.9 424.4 260.3 424.6 262.8 424.8 265.3 425.0 262.1 425.2 258.9 425.4 255.8 425.5 252.8 425.7 249.8 425.9 246.9 426.1 244.1 426.3 241.4 426.5 238.8 426.7 236.2 426.8 233.7 427.0 231.2 427.2 228.9 427.4 226.6 427.6 224.4 427.8 222.3 428.0 220.2 428.1 218.2 428.3 216.3 428.5 214.5 428.7 212.7 428.9 211.1 429.1 209.5 429.3 207.9 429.4 206.5 429.6 205.1 429.8 203.8 430.0 202.5 430.2 201.4 430.4 200.3 430.6 199.3 430.8 198.4 430.9 197.5 431.1 196.7 431.3 196.0 431.5 195.4 431.7 194.8 431.9 194.3 432.1 193.9 432.2 193.6 432.4 193.3 432.6 193.1 432.8 193.0 433.0 193.0 433.2 193.1 433.4 193.3 433.5 193.8 433.7 194.4 433.9 195.2 434.1 196.2 434.3 197.4 434.5 198.7 434.7 200.2 434.8 201.9 435.0 203.8 435.2 205.8 435.4 208.1 435.6 210.5 435.8 213.0 436.0 215.5 436.1 218.0 436.3 220.6 436.5 223.1 436.7 225.6 436.9 228.1 437.1 230.6 437.3 233.2 437.4 235.7 437.6 238.2 437.8 240.7 438.0 243.2 438.2 245.8 438.4 248.3 438.6 250.8 438.7 253.3 438.9 255.8 439.1 258.4 439.3 260.9 439.5 263.4 439.7 265.9 439.9 268.4 440.1 271.0 440.2 273.5 440.4 276.0 440.6 278.5 440.8 281.0 441.0 283.6 441.2 286.1 441.4 288.6 441.5 291.1 441.7 293.6 441.9 296.2 442.1 298.7 442.3 301.2 442.5 303.7 442.7 306.2 442.8 308.8 443.0 311.3 443.2 313.8 443.4 316.3 443.6 318.8 443.8 321.4 444.0 323.9 444.1 328.3 444.3 328.3 444.5 328.3 444.7 328.3 444.9 6041.3 445.1 6041.3 445.3 6041.3 445.4 6041.3 445.6 6041.3 445.8 6041.3 446.0 6041.3 446.2 6041.3 446.4 6041.3 446.6 6041.3 446.7 6041.3 446.9 6041.3 447.1 329.5 447.3 329.5 447.5 329.5 447.7 329.5 447.9 329.5 448.0 329.5 448.2 368.2 448.4 368.2 448.6 368.2 448.8 368.2 449.0 368.2 449.2 368.2 449.4 379.4 449.5 379.4 449.7 379.4 449.9 379.4 450.1 379.4 450.3 379.4 450.5 330.5 450.7 330.5 450.8 330.5 451.6 330.5 452.7 6041.3 453.8 335.1 454.9 326.7 456.0 351.5 457.2 369.3 458.3 330.0 459.4 322.9 460.5 327.7 461.6 6041.3 462.7 329.0 463.9 6041.3 465.0 6041.3 466.1 335.1 467.2 334.6 468.3 6041.3 469.4 6041.3 470.6 334.5 471.7 333.0 472.8 6041.3 473.9 331.2 475.0 6041.3 476.1 6041.3 477.3 6041.3 478.4 6041.3 479.5 333.1 480.6 332.6 481.7 329.4 482.8 6041.3 483.9 330.2 485.1 6041.3 486.2 6041.3 487.3 6041.3 488.4 331.7 489.5 336.4 490.6 6041.3 491.8 334.6 492.9 6041.3 494.0 329.8 495.1 338.9 496.2 6041.3 497.3 6041.3 498.5 336.9 499.6 340.8 500.7 6041.3 501.8 6041.3 502.9 333.5 504.0 364.8 505.2 331.7 506.3 333.7 507.4 6041.3 508.5 331.1 509.6 331.0 510.7 6041.3 511.8 334.1 513.0 362.4 514.1 6041.3 515.2 364.7 516.3 333.1 517.4 6041.3 518.5 6041.3 519.7 331.5 520.8 6041.3 521.9 325.9 523.0 328.9 524.1 6041.3 525.2 6041.3 526.4 328.4 527.5 332.5 528.6 363.4 529.7 379.0 530.8 337.2 531.9 333.2 533.1 6041.3 534.2 6041.3 535.3 333.3 536.4 6041.3 537.5 341.4 538.6 352.5 539.7 330.7 540.9 6041.3 542.0 6041.3 543.1 6041.3 544.2 327.0 545.3 6041.3 546.4 6041.3 547.6 6041.3 548.7 327.4 549.8 6041.3 550.9 6041.3 552.0 6041.3 553.1 330.8 554.3 6041.3 555.4 6041.3 556.5 326.1 557.6 6041.3 558.7 6041.3 559.8 6041.3 561.0 340.4 562.1 6041.3 563.2 6041.3 564.3 330.4 565.4 329.8 566.5 6041.3 567.6 6041.3 568.8 333.5 569.9 6041.3 571.0 6041.3 572.1 331.6 573.2 335.1 574.3 6041.3 575.5 332.2 576.6 328.8 577.7 6041.3 578.8 341.9 579.9 337.0 581.0 341.7 582.2 354.3 583.3 334.8 584.4 6041.3 585.5 6041.3 586.6 333.2 587.7 6041.3 588.9 329.2 590.0 327.4 591.1 323.8 592.2 326.7 593.3 376.0 594.4 6041.3 595.5 335.9 596.7 6041.3 597.8 332.4 598.9 6041.3 600.0 337.6 601.1 6041.3 602.2 336.6 603.4 351.7 604.5 336.6 605.6 6041.3 606.7 327.5 607.8 6041.3 608.9 331.9 610.1 332.4 611.2 6041.3 612.3 6041.3 613.4 330.8 614.5 6041.3 615.6 6041.3 616.8 335.2 617.9 6041.3 619.0 330.6 620.1 333.3 621.2 6041.3 622.3 6041.3 623.4 330.0 624.6 331.3 625.7 363.3 626.8 327.1 627.9 6041.3 629.0 6041.3 630.1 6041.3 631.3 6041.3 632.4 335.4 633.5 6041.3 634.6 331.8 635.7 331.3 636.8 354.0 638.0 371.8 639.1 329.5 640.2 333.9 641.3 367.0 642.4 6041.3 643.5 334.3 644.7 6041.3 645.8 6041.3 646.9 328.1 648.0 327.5" stroke="#d62728"/>
<path d="M90.0 332.6 91.1 351.9 92.2 6041.3 93.3 332.6 94.5 336.4 95.6 6041.3 96.7 6041.3 97.8 334.3 98.9 6041.3 100.0 342.0 101.2 339.9 102.3 338.7 103.4 6041.3 104.5 6041.3 105.6 330.3 106.7 332.6 107.9 6041.3 109.0 6041.3 110.1 326.7 111.2 6041.3 112.3 330.6 113.4 6041.3 114.6 332.9 115.7 6041.3 116.8 333.6 117.9 337.1 119.0 6041.3 120.1 6041.3 121.2 330.4 122.4 337.5 123.5 6041.3 124.6 331.0 125.7 333.6 126.8 331.9 127.9 6041.3 129.1 6041.3 130.2 330.5 131.3 332.3 132.4 6041.3 133.5 335.7 134.6 329.1 135.8 6041.3 136.9 6041.3 138.0 333.8 139.1 6041.3 140.2 332.4 141.3 6041.3 142.5 330.8 143.6 331.3 144.7 331.9 145.8 328.3 146.9 328.1 148.0 6041.3 149.1 6041.3 150.3 331.7 151.4 6041.3 152.5 334.4 153.6 333.0 154.7 6041.3 155.8 6041.3 157.0 6041.3 158.1 6041.3 159.2 330.0 160.3 332.0 161.4 332.6 162.5 362.6 163.7 337.6 164.8 334.7 165.9 6041.3 167.0 333.5 168.1 6041.3 169.2 324.9 170.4 326.9 171.5 382.7 172.6 334.1 173.7 6041.3 174.8 6041.3 175.9 6041.3 177.0 333.7 178.2 6041.3 179.3 332.7 180.4 6041.3 181.5 6041.3 182.6 331.5 183.7 6041.3 184.9 6041.3 186.0 6041.3 187.1 329.4 188.2 6041.3 189.3 6041.3 190.4 328.3 191.6 327.4 192.7 6041.3 193.8 327.1 194.9 328.5 196.0 6041.3 197.1 6041.3 198.3 6041.3 199.4 336.0 200.5 338.8 201.6 6041.3 202.7 6041.3 203.8 333.1 204.9 6041.3 206.1 334.8 207.2 338.0 208.3 6041.3 209.4 6041.3 210.5 328.5 211.6 6041.3 212.8 6041.3 213.9 6041.3 215.0 331.6 216.1 6041.3 217.2 6041.3 218.3 328.0 219.5 6041.3 220.6 6041.3 221.7 335.9 222.8 338.4 223.9 368.0 225.0 6041.3 226.2 329.6 227.3 334.9 228.4 6041.3 229.5 6041.3 230.6 6041.3 231.7 335.0 232.8 333.2 234.0 335.0 235.1 6041.3 236.2 339.2 237.3 336.3 238.4 6041.3 239.5 6041.3 240.7 6041.3 241.8 335.2 242.9 6041.3 244.0 330.7 245.1 329.4 246.2 6041.3 247.4 6041.3 248.5 325.8 249.6 6041.3 250.7 337.9 251.8 337.7 252.9 6041.3 254.1 6041.3 255.2 6041.3 256.3 333.5 257.4 383.1 258.5 333.1 259.6 6041.3 260.7 333.0 261.9 6041.3 263.0 6041.3 264.1 6041.3 265.2 330.1 266.3 331.3 267.4 326.2 268.6 367.4 269.7 335.6 270.8 6041.3 271.9 6041.3 273.0 330.3 274.1 6041.3 275.3 340.3 276.4 6041.3 277.5 341.2 278.6 333.6 279.7 6041.3 280.8 334.1 282.0 6041.3 283.1 6041.3 284.2 332.6 285.3 331.9 286.4 349.4 287.5 331.0 288.6 6041.3 289.8 6041.3 290.9 372.4 292.0 336.0 293.1 334.2 294.2 6041.3 295.3 6041.3 296.5 323.8 297.6 327.3 298.7 6041.3 299.8 327.7 300.9 326.3 302.0 6041.3 303.2 325.4 304.3 328.0 305.4 323.1 305.8 6041.3 305.9 6041.3 306.1 6041.3 306.3 6041.3 306.5 330.0 306.7 330.0 306.9 330.0 307.1 330.0 307.2 330.0 307.4 330.0 307.6 331.8 307.8 331.8 308.0 331.8 308.2 331.8 308.4 331.8 308.5 331.8 308.7 317.5 308.9 323.3 309.1 322.1 309.3 320.9 309.5 319.7 309.7 318.6 309.9 317.5 310.0 316.4 310.2 315.4 310.4 314.5 310.6 313.6 310.8 312.7 311.0 311.9 311.2 311.1 311.3 310.4 311.5 309.7 311.7 309.1 311.9 308.5 312.1 307.9 312.3 307.4 312.5 307.0 312.6 306.6 312.8 306.2 313.0 305.8 313.2 305.6 313.4 305.3 313.6 305.1 313.8 305.0 313.9 304.9 314.1 304.8 314.3 304.8 314.5 304.8 314.7 304.8 314.9 304.8 315.1 304.9 315.2 304.9 315.4 305.0 315.6 305.1 315.8 305.2 316.0 305.3 316.2 305.4 316.4 305.6 316.5 305.7 316.7 305.9 316.9 306.1 317.1 306.3 317.3 306.5 317.5 306.7 317.7 307.0 317.8 307.2 318.0 307.5 318.2 307.8 318.4 308.1 318.6 308.4 318.8 308.7 319.0 309.0 319.2 309.4 319.3 309.7 319.5 310.1 319.7 310.5 319.9 310.9 320.1 311.3 320.3 311.7 320.5 312.2 320.6 312.6 320.8 313.1 321.0 313.6 321.2 314.1 321.4 314.6 321.6 315.1 321.8 315.7 321.9 316.2 322.1 316.8 322.3 317.4 322.5 318.0 322.7 318.6 322.9 319.2 323.1 319.8 323.2 320.5 323.4 321.1 323.6 321.8 323.8 6041.3 324.0 6041.3 324.2 6041.3 324.4 6041.3 324.5 6041.3 324.7 6041.3 324.9 6041.3 325.1 6041.3 325.3 6041.3 325.5 6041.3 325.7 6041.3 325.8 6041.3 326.0 6041.3 326.2 6041.3 326.4 295.2 326.6 292.8 326.8 290.5 327.0 288.2 327.1 286.0 327.3 283.8 327.5 281.7 327.7 279.6 327.9 277.5 328.1 275.5 328.3 273.6 328.5 271.7 328.6 269.9 328.8 268.1 329.0 266.3 329.2 264.6 329.4 263.0 329.6 261.4 329.8 259.9 329.9 258.4 330.1 256.9 330.3 255.5 330.5 254.2 330.7 252.9 330.9 251.6 331.1 250.4 331.2 249.3 331.4 248.1 331.6 247.1 331.8 246.1 332.0 245.1 332.2 244.2 332.4 243.4 332.5 242.6 332.7 241.8 332.9 241.1 333.1 240.4 333.3 239.8 333.5 239.2 333.7 238.7 333.8 238.3 334.0 237.8 334.2 237.5 334.4 237.2 334.6 236.9 334.8 236.7 335.0 236.5 335.1 236.4 335.3 236.3 335.5 236.3 335.7 236.3 335.9 236.4 336.1 236.5 336.3 236.7 336.4 236.9 336.6 237.2 336.8 237.5 337.0 237.9 337.2 238.3 337.4 238.8 337.6 239.3 337.8 239.9 337.9 240.5 338.1 241.2 338.3 241.9 338.5 242.7 338.7 243.5 338.9 244.4 339.1 245.3 339.2 246.3 339.4 247.3 339.6 248.4 339.8 249.5 340.0 250.7 340.2 251.9 340.4 253.2 340.5 254.5 340.7 255.9 340.9 257.3 341.1 258.8 341.3 260.3 341.5 261.9 341.7 263.5 341.8 265.2 342.0 266.9 342.2 268.7 342.4 270.5 342.6 272.4 342.8 274.3 343.0 276.3 343.1 278.3 343.3 280.4 343.5 282.5 343.7 284.7 343.9 286.9 344.1 289.2 344.3 291.5 344.4 293.9 344.6 296.3 344.8 298.8 345.0 301.3 345.2 303.9 345.4 301.6 345.6 299.3 345.7 297.1 345.9 294.9 346.1 292.8 346.3 290.6 346.5 288.6 346.7 286.5 346.9 284.5 347.1 282.5 347.2 280.6 347.4 278.7 347.6 276.8 347.8 275.0 348.0 273.2 348.2 271.4 348.4 269.7 348.5 268.0 348.7 266.3 348.9 264.7 349.1 263.1 349.3 261.5 349.5 260.0 349.7 258.5 349.8 257.1 350.0 255.7 350.2 254.3 350.4 252.9 350.6 251.6 350.8 250.3 351.0 249.1 351.1 247.9 351.3 246.7 351.5 245.6 351.7 244.5 351.9 243.4 352.1 242.4 352.3 241.4 352.4 240.4 352.6 239.5 352.8 238.6 353.0 237.7 353.2 236.9 353.4 236.1 353.6 235.4 353.7 234.7 353.9 234.0 354.1 233.3 354.3 232.7 354.5 232.1 354.7 231.6 354.9 231.1 355.0 230.6 355.2 230.2 355.4 229.8 355.6 229.4 355.8 229.1 356.0 228.8 356.2 228.5 356.4 228.3 356.5 228.1 356.7 227.9 356.9 227.8 357.1 227.7 357.3 227.7 357.5 227.7 357.7 227.7 357.8 227.8 358.0 228.0 358.2 228.2 358.4 228.5 358.6 228.9 358.8 229.3 359.0 229.8 359.1 230.3 359.3 231.0 359.5 231.6 359.7 232.4 359.9 233.2 360.1 234.1 360.3 235.1 360.4 236.1 360.6 237.1 360.8 238.3 361.0 239.5 361.2 240.8 361.4 242.1 361.6 243.5 361.7 245.0 361.9 246.6 362.1 248.2 362.3 249.8 362.5 251.6 362.7 253.4 362.9 255.3 363.0 257.2 363.2 259.2 363.4 261.3 363.6 263.4 363.8 265.6 364.0 267.9 364.2 270.2 364.3 272.6 364.5 275.0 364.7 277.6 364.9 280.2 365.1 277.9 365.3 275.7 365.5 273.6 365.7 271.5 365.8 269.4 366.0 267.3 366.2 265.3 366.4 263.3 366.6 261.4 366.8 259.5 367.0 257.6 367.1 255.8 367.3 254.0 367.5 252.2 367.7 250.5 367.9 248.8 368.1 247.1 368.3 245.5 368.4 243.9 368.6 242.3 368.8 240.8 369.0 239.3 369.2 237.8 369.4 236.4 369.6 235.0 369.7 233.7 369.9 232.4 370.1 231.1 370.3 229.9 370.5 228.6 370.7 227.5 370.9 226.3 371.0 225.2 371.2 224.2 371.4 223.1 371.6 222.1 371.8 221.2 372.0 220.2 372.2 219.3 372.3 218.5 372.5 217.7 372.7 216.9 372.9 216.1 373.1 215.4 373.3 214.7 373.5 214.1 373.6 213.5 373.8 212.9 374.0 212.3 374.2 211.8 374.4 211.4 374.6 210.9 374.8 210.5 375.0 210.1 375.1 209.8 375.3 209.5 375.5 209.3 375.7 209.0 375.9 208.8 376.1 208.7 376.3 208.6 376.4 208.5 376.6 208.4 376.8 208.4 377.0 208.4 377.2 208.5 377.4 208.7 377.6 208.9 377.7 209.1 377.9 209.5 378.1 209.9 378.3 210.3 378.5 210.8 378.7 211.4 378.9 212.0 379.0 212.7 379.2 213.4 379.4 214.2 379.6 215.1 379.8 216.0 380.0 217.0 380.2 218.0 380.3 219.1 380.5 220.3 380.7 221.5 380.9 222.8 381.1 224.1 381.3 225.5 381.5 227.0 381.6 228.5 381.8 230.1 382.0 231.7 382.2 233.4 382.4 235.1 382.6 236.9 382.8 238.8 382.9 240.7 383.1 242.7 383.3 244.8 383.5 246.9 383.7 249.1 383.9 251.3 384.1 253.6 384.3 255.9 384.4 258.3 384.6 260.8 384.8 263.3 385.0 265.9 385.2 268.6 385.4 271.3 385.6 268.3 385.7 265.5 385.9 262.7 386.1 259.9 386.3 257.3 386.5 254.6 386.7 252.1 386.9 249.6 387.0 247.2 387.2 244.8 387.4 242.5 387.6 240.3 387.8 238.1 388.0 235.9 388.2 233.9 388.3 231.9 388.5 229.9 388.7 228.1 388.9 226.3 389.1 224.5 389.3 222.8 389.5 221.2 389.6 219.6 389.8 218.1 390.0 216.7 390.2 215.3 390.4 214.0 390.6 212.7 390.8 211.5 390.9 210.4 391.1 209.3 391.3 208.3 391.5 207.3 391.7 206.4 391.9 205.6 392.1 204.8 392.2 204.1 392.4 203.5 392.6 202.9 392.8 202.4 393.0 201.9 393.2 201.5 393.4 201.2 393.6 200.9 393.7 200.7 393.9 200.5 394.1 200.4 394.3 200.4 394.5 200.4 394.7 200.5 394.9 200.6 395.0 200.8 395.2 201.0 395.4 201.2 395.6 201.5 395.8 201.9 396.0 202.2 396.2 202.7 396.3 203.2 396.5 203.7 396.7 204.3 396.9 204.9 397.1 205.5 397.3 206.3 397.5 207.0 397.6 207.8 397.8 208.7 398.0 209.6 398.2 210.5 398.4 211.5 398.6 212.5 398.8 213.6 398.9 214.7 399.1 215.9 399.3 217.1 399.5 218.4 399.7 219.7 399.9 221.0 400.1 222.4 400.2 223.9 400.4 225.3 400.6 226.9 400.8 228.5 401.0 230.1 401.2 231.8 401.4 233.5 401.5 235.2 401.7 237.1 401.9 238.9 402.1 240.8 402.3 242.8 402.5 244.8 402.7 246.8 402.9 248.9 403.0 251.0 403.2 253.2 403.4 255.4 403.6 257.7 403.8 260.0 404.0 262.4 404.2 259.1 404.3 255.9 404.5 252.8 404.7 249.9 404.9 247.0 405.1 244.2 405.3 241.6 405.5 239.0 405.6 236.6 405.8 234.2 406.0 232.0 406.2 229.8 406.4 227.8 406.6 225.9 406.8 224.1 406.9 222.3 407.1 220.7 407.3 219.2 407.5 217.8 407.7 216.5 407.9 215.3 408.1 214.2 408.2 213.2 408.4 212.3 408.6 211.5 408.8 210.9 409.0 210.3 409.2 209.8 409.4 209.5 409.5 209.2 409.7 209.0 409.9 209.0 410.1 209.0 410.3 209.1 410.5 209.2 410.7 209.3 410.8 209.5 411.0 209.8 411.2 210.0 411.4 210.4 411.6 210.7 411.8 211.1 412.0 211.6 412.2 212.1 412.3 212.6 412.5 213.2 412.7 213.8 412.9 214.5 413.1 215.2 413.3 215.9 413.5 216.7 413.6 217.5 413.8 218.4 414.0 219.3 414.2 220.3 414.4 221.3 414.6 222.3 414.8 223.4 414.9 224.6 415.1 225.7 415.3 226.9 415.5 228.2 415.7 229.5 415.9 230.9 416.1 232.2 416.2 233.7 416.4 235.1 416.6 236.7 416.8 238.2 417.0 239.8 417.2 241.5 417.4 243.2 417.5 244.9 417.7 246.7 417.9 248.5 418.1 250.3 418.3 252.2 418.5 254.2 418.7 256.2 418.8 258.2 419.0 260.3 419.2 262.4 419.4 264.5 419.6 266.7 419.8 269.0 420.0 271.3 420.1 268.6 420.3 266.0 420.5 263.5 420.7 261.0 420.9 258.5 421.1 256.1 421.3 253.8 421.5 251.5 421.6 249.3 421.8 247.1 422.0 245.0 422.2 243.0 422.4 240.9 422.6 239.0 422.8 237.1 422.9 235.2 423.1 233.4 423.3 231.7 423.5 230.0 423.7 228.4 423.9 226.8 424.1 225.3 424.2 223.8 424.4 222.4 424.6 221.0 424.8 219.7 425.0 218.4 425.2 217.2 425.4 216.1 425.5 215.0 425.7 213.9 425.9 212.9 426.1 212.0 426.3 211.1 426.5 210.3 426.7 209.5 426.8 208.8 427.0 208.1 427.2 207.5 427.4 206.9 427.6 206.4 427.8 206.0 428.0 205.6 428.1 205.2 428.3 204.9 428.5 204.7 428.7 204.5 428.9 204.4 429.1 204.3 429.3 204.2 429.4 204.3 429.6 204.7 429.8 205.2 430.0 205.9 430.2 206.8 430.4 207.9 430.6 209.3 430.8 210.8 430.9 212.5 431.1 214.5 431.3 216.6 431.5 219.0 431.7 221.5 431.9 224.3 432.1 227.0 432.2 229.7 432.4 232.5 432.6 235.2 432.8 238.0 433.0 240.7 433.2 243.5 433.4 246.2 433.5 248.9 433.7 251.7 433.9 254.4 434.1 257.2 434.3 259.9 434.5 262.7 434.7 265.4 434.8 268.1 435.0 270.9 435.2 273.6 435.4 276.4 435.6 279.1 435.8 281.9 436.0 284.6 436.1 287.3 436.3 290.1 436.5 292.8 436.7 295.6 436.9 298.3 437.1 301.1 437.3 303.8 437.4 306.5 437.6 309.3 437.8 312.0 438.0 314.8 438.2 317.5 438.4 320.3 438.6 323.0 438.7 6041.3 438.9 6041.3 439.1 6041.3 439.3 6041.3 439.5 6041.3 439.7 6041.3 439.9 6041.3 440.1 6041.3 440.2 6041.3 440.4 6041.3 440.6 6041.3 440.8 6041.3 441.0 6041.3 441.2 6041.3 441.4 6041.3 441.5 6041.3 441.7 6041.3 441.9 6041.3 442.1 6041.3 442.3 6041.3 442.5 6041.3 442.7 330.4 442.8 330.4 443.0 330.4 443.2 330.4 443.4 330.4 443.6 330.4 443.8 6041.3 444.0 6041.3 444.1 6041.3 444.3 6041.3 444.5 6041.3 444.7 6041.3 444.9 326.4 445.1 326.4 445.3 326.4 445.4 326.4 445.6 326.4 445.8 326.4 446.0 6041.3 446.2 6041.3 446.4 6041.3 446.6 6041.3 446.7 6041.3 446.9 6041.3 447.1 6041.3 447.3 6041.3 447.5 6041.3 447.7 6041.3 447.9 6041.3 448.0 6041.3 448.2 328.4 448.4 328.4 448.6 328.4 448.8 328.4 449.0 328.4 449.2 328.4 449.4 327.6 449.5 327.6 449.7 327.6 449.9 327.6 450.1 327.6 450.3 327.6 450.5 6041.3 450.7 6041.3 450.8 6041.3 451.6 6041.3 452.7 331.3 453.8 6041.3 454.9 335.8 456.0 6041.3 457.2 6041.3 458.3 327.0 459.4 6041.3 460.5 354.6 461.6 6041.3 462.7 331.8 463.9 330.7 465.0 6041.3 466.1 331.6 467.2 6041.3 468.3 6041.3 469.4 6041.3 470.6 6041.3 471.7 333.8 472.8 333.3 473.9 369.7 475.0 324.7 476.1 6041.3 477.3 6041.3 478.4 6041.3 479.5 334.9 480.6 6041.3 481.7 6041.3 482.8 6041.3 483.9 331.4 485.1 328.9 486.2 332.0 487.3 328.2 488.4 348.4 489.5 327.6 490.6 6041.3 491.8 6041.3 492.9 335.6 494.0 6041.3 495.1 6041.3 496.2 333.7 497.3 330.8 498.5 333.8 499.6 373.0 500.7 6041.3 501.8 375.2 502.9 6041.3 504.0 337.2 505.2 336.1 506.3 6041.3 507.4 329.0 508.5 331.1 509.6 325.9 510.7 6041.3 511.8 6041.3 513.0 335.8 514.1 339.0 515.2 336.5 516.3 6041.3 517.4 6041.3 518.5 6041.3 519.7 333.2 520.8 369.1 521.9 329.7 523.0 329.9 524.1 329.0 525.2 6041.3 526.4 339.0 527.5 6041.3 528.6 334.1 529.7 330.9 530.8 330.0 531.9 332.9 533.1 6041.3 534.2 332.4 535.3 6041.3 536.4 6041.3 537.5 6041.3 538.6 6041.3 539.7 334.7 540.9 335.9 542.0 6041.3 543.1 335.6 544.2 332.6 545.3 339.9 546.4 6041.3 547.6 6041.3 548.7 324.6 549.8 6041.3 550.9 6041.3 552.0 6041.3 553.1 6041.3 554.3 332.7 555.4 328.3 556.5 6041.3 557.6 6041.3 558.7 329.1 559.8 6041.3 561.0 330.5 562.1 332.2 563.2 6041.3 564.3 6041.3 565.4 334.5 566.5 6041.3 567.6 331.7 568.8 6041.3 569.9 330.1 571.0 331.1 572.1 6041.3 573.2 6041.3 574.3 6041.3 575.5 333.5 576.6 359.8 577.7 332.2 578.8 6041.3 579.9 335.0 581.0 332.6 582.2 6041.3 583.3 6041.3 584.4 6041.3 585.5 329.1 586.6 6041.3 587.7 333.2 588.9 333.0 590.0 6041.3 591.1 6041.3 592.2 332.9 593.3 6041.3 594.4 6041.3 595.5 6041.3 596.7 326.1 597.8 331.8 598.9 6041.3 600.0 6041.3 601.1 338.8 602.2 339.2 603.4 334.5 604.5 333.1 605.6 6041.3 606.7 333.5 607.8 330.4 608.9 376.7 610.1 335.4 611.2 6041.3 612.3 338.2 613.4 334.5 614.5 6041.3 615.6 6041.3 616.8 6041.3 617.9 332.9 619.0 6041.3 620.1 6041.3 621.2 6041.3 622.3 334.7 623.4 6041.3 624.6 6041.3 625.7 6041.3 626.8 332.3 627.9 6041.3 629.0 337.6 630.1 6041.3 631.3 6041.3 632.4 334.5 633.5 6041.3 634.6 6041.3 635.7 335.4 636.8 6041.3 638.0 351.7 639.1 326.8 640.2 329.1 641.3 6041.3 642.4 329.8 643.5 329.3 644.7 337.0 645.8 6041.3 646.9 6041.3 648.0 338.4" stroke="#9467bd"/>
<path d="M90.0 357.8 91.1 337.8 92.2 6041.3 93.3 324.6 94.5 6041.3 95.6 330.4 96.7 333.8 97.8 6041.3 98.9 333.3 100.0 6041.3 101.2 332.2 102.3 6041.3 103.4 6041.3 104.5 330.9 105.6 328.8 106.7 335.0 107.9 6041.3 109.0 366.5 110.1 6041.3 111.2 334.6 112.3 330.6 113.4 6041.3 114.6 326.5 115.7 6041.3 116.8 6041.3 117.9 335.6 119.0 339.1 120.1 338.7 121.2 6041.3 122.4 6041.3 123.5 377.5 124.6 331.2 125.7 331.5 126.8 6041.3 127.9 333.5 129.1 334.6 130.2 6041.3 131.3 6041.3 132.4 338.1 133.5 6041.3 134.6 334.5 135.8 336.6 136.9 6041.3 138.0 6041.3 139.1 328.0 140.2 327.3 141.3 328.7 142.5 6041.3 143.6 327.1 144.7 352.8 145.8 6041.3 146.9 6041.3 148.0 330.1 149.1 362.1 150.3 6041.3 151.4 6041.3 152.5 334.0 153.6 6041.3 154.7 334.5 155.8 328.7 157.0 334.0 158.1 377.3 159.2 332.8 160.3 6041.3 161.4 338.7 162.5 336.8 163.7 336.4 164.8 6041.3 165.9 6041.3 167.0 344.3 168.1 6041.3 169.2 335.8 170.4 329.7 171.5 6041.3 172.6 330.8 173.7 364.7 174.8 6041.3 175.9 331.5 177.0 6041.3 178.2 327.6 179.3 326.6 180.4 6041.3 181.5 326.5 182.6 6041.3 183.7 6041.3 184.9 333.2 186.0 355.9 187.1 6041.3 188.2 324.8 189.3 325.2 190.4 6041.3 191.6 332.6 192.7 6041.3 193.8 6041.3 194.9 337.4 196.0 338.8 197.1 338.1 198.3 329.9 199.4 6041.3 200.5 324.8 201.6 328.9 202.7 332.2 203.8 6041.3 204.9 6041.3 206.1 334.8 207.2 6041.3 208.3 327.4 209.4 329.8 210.5 6041.3 211.6 6041.3 212.8 6041.3 213.9 338.3 215.0 338.1 216.1 6041.3 217.2 374.8 218.3 6041.3 219.5 336.9 220.6 6041.3 221.7 6041.3 222.8 6041.3 223.9 6041.3 225.0 328.4 226.2 328.8 227.3 330.1 228.4 6041.3 229.5 6041.3 230.6 337.2 231.7 6041.3 232.8 6041.3 234.0 6041.3 235.1 325.7 236.2 329.6 237.3 6041.3 238.4 328.1 239.5 329.0 240.7 6041.3 241.8 325.2 242.9 329.8 244.0 334.0 245.1 328.5 246.2 6041.3 247.4 6041.3 248.5 6041.3 249.6 328.1 250.7 327.0 251.8 6041.3 252.9 6041.3 254.1 327.3 255.2 328.3 256.3 329.6 257.4 6041.3 258.5 6041.3 259.6 332.0 260.7 337.2 261.9 330.1 263.0 336.1 264.1 6041.3 265.2 360.5 266.3 6041.3 267.4 6041.3 268.6 6041.3 269.7 332.0 270.8 6041.3 271.9 6041.3 273.0 336.5 274.1 6041.3 275.3 6041.3 276.4 335.6 277.5 336.3 278.6 6041.3 279.7 329.7 280.8 6041.3 282.0 336.5 283.1 335.3 284.2 6041.3 285.3 6041.3 286.4 337.1 287.5 335.3 288.6 6041.3 289.8 331.5 290.9 328.9 292.0 376.2 293.1 329.3 294.2 329.6 295.3 330.3 296.5 6041.3 297.6 327.7 298.7 6041.3 299.8 6041.3 300.9 380.3 302.0 325.6 303.2 327.4 304.3 6041.3 305.4 6041.3 305.8 325.4 305.9 325.4 306.1 325.4 306.3 325.4 306.5 362.4 306.7 362.4 306.9 362.4 307.1 362.4 307.2 362.4 307.4 362.4 307.6 6041.3 307.8 6041.3 308.0 6041.3 308.2 6041.3 308.4 6041.3 308.5 6041.3 308.7 331.1 308.9 331.1 309.1 331.1 309.3 331.1 309.5 331.1 309.7 331.1 309.9 325.6 310.0 325.6 310.2 325.6 310.4 325.6 310.6 325.6 310.8 325.6 311.0 319.9 311.2 319.9 311.3 319.9 311.5 323.4 311.7 322.2 311.9 321.0 312.1 319.9 312.3 318.8 312.5 317.7 312.6 316.6 312.8 315.6 313.0 314.6 313.2 313.6 313.4 312.6 313.6 311.7 313.8 310.7 313.9 309.9 314.1 309.0 314.3 308.2 314.5 307.3 314.7 306.6 314.9 305.8 315.1 305.1 315.2 304.4 315.4 303.7 315.6 303.0 315.8 302.4 316.0 301.8 316.2 301.2 316.4 300.7 316.5 300.1 316.7 299.6 316.9 299.1 317.1 298.7 317.3 298.3 317.5 297.9 317.7 297.5 317.8 297.2 318.0 296.8 318.2 296.5 318.4 296.3 318.6 296.0 318.8 295.8 319.0 295.6 319.2 295.4 319.3 295.3 319.5 295.2 319.7 295.1 319.9 295.0 320.1 295.0 320.3 295.0 320.5 295.0 320.6 295.0 320.8 295.1 321.0 295.2 321.2 295.3 321.4 295.5 321.6 295.7 321.8 295.9 321.9 296.1 322.1 296.4 322.3 296.7 322.5 297.0 322.7 297.3 322.9 297.7 323.1 298.1 323.2 298.6 323.4 299.0 323.6 299.5 323.8 300.0 324.0 300.6 324.2 301.2 324.4 301.8 324.5 302.4 324.7 303.0 324.9 303.7 325.1 304.5 325.3 305.2 325.5 306.0 325.7 306.8 325.8 307.6 326.0 308.4 326.2 309.3 326.4 310.2 326.6 311.2 326.8 312.1 327.0 313.1 327.1 314.2 327.3 315.2 327.5 316.3 327.7 317.4 327.9 318.5 328.1 319.7 328.3 320.9 328.5 322.1 328.6 323.4 328.8 324.6 329.0 322.2 329.2 319.8 329.4 317.4 329.6 315.1 329.8 312.8 329.9 310.6 330.1 308.4 330.3 306.2 330.5 304.0 330.7 301.9 330.9 299.9 331.1 297.8 331.2 295.8 331.4 293.9 331.6 291.9 331.8 290.0 332.0 288.2 332.2 286.4 332.4 284.6 332.5 282.8 332.7 281.1 332.9 279.4 333.1 277.8 333.3 276.2 333.5 274.6 333.7 273.1 333.8 271.6 334.0 270.1 334.2 268.7 334.4 267.3 334.6 266.0 334.8 264.7 335.0 263.4 335.1 262.1 335.3 260.9 335.5 259.8 335.7 258.6 335.9 257.5 336.1 256.5 336.3 255.4 336.4 254.4 336.6 253.5 336.8 252.6 337.0 251.7 337.2 250.8 337.4 250.0 337.6 249.3 337.8 248.5 337.9 247.8 338.1 247.1 338.3 246.5 338.5 245.9 338.7 245.4 338.9 244.8 339.1 244.4 339.2 243.9 339.4 243.5 339.6 243.1 339.8 242.8 340.0 242.5 340.2 242.2 340.4 242.0 340.5 241.8 340.7 241.6 340.9 241.5 341.1 241.4 341.3 241.3 341.5 241.3 341.7 241.3 341.8 241.4 342.0 241.6 342.2 241.8 342.4 242.1 342.6 242.4 342.8 242.8 343.0 243.3 343.1 243.8 343.3 244.4 343.5 245.1 343.7 245.8 343.9 246.6 344.1 247.4 344.3 248.3 344.4 249.3 344.6 250.3 344.8 251.4 345.0 252.5 345.2 253.7 345.4 255.0 345.6 256.4 345.7 257.8 345.9 259.2 346.1 260.7 346.3 262.3 346.5 264.0 346.7 265.7 346.9 267.5 347.1 269.3 347.2 271.2 347.4 273.1 347.6 275.2 347.8 277.3 348.0 279.4 348.2 281.6 348.4 283.9 348.5 286.2 348.7 288.6 348.9 291.1 349.1 293.6 349.3 296.2 349.5 298.8 349.7 301.5 349.8 299.3 350.0 297.0 350.2 294.9 350.4 292.7 350.6 290.6 350.8 288.5 351.0 286.5 351.1 284.4 351.3 282.5 351.5 280.5 351.7 278.6 351.9 276.7 352.1 274.8 352.3 273.0 352.4 271.2 352.6 269.4 352.8 267.7 353.0 266.0 353.2 264.4 353.4 262.7 353.6 261.1 353.7 259.6 353.9 258.0 354.1 256.5 354.3 255.1 354.5 253.6 354.7 252.2 354.9 250.8 355.0 249.5 355.2 248.2 355.4 246.9 355.6 245.7 355.8 244.5 356.0 243.3 356.2 242.1 356.4 241.0 356.5 239.9 356.7 238.9 356.9 237.9 357.1 236.9 357.3 235.9 357.5 235.0 357.7 234.1 357.8 233.3 358.0 232.4 358.2 231.6 358.4 230.9 358.6 230.2 358.8 229.5 359.0 228.8 359.1 228.2 359.3 227.6 359.5 227.0 359.7 226.5 359.9 226.0 360.1 225.5 360.3 225.1 360.4 224.7 360.6 224.3 360.8 223.9 361.0 223.6 361.2 223.4 361.4 223.1 361.6 222.9 361.7 222.7 361.9 222.6 362.1 222.5 362.3 222.4 362.5 222.3 362.7 222.3 362.9 222.4 363.0 222.5 363.2 222.7 363.4 222.9 363.6 223.3 363.8 223.7 364.0 224.2 364.2 224.8 364.3 225.4 364.5 226.1 364.7 226.9 364.9 227.8 365.1 228.8 365.3 229.8 365.5 230.9 365.7 232.1 365.8 233.3 366.0 234.6 366.2 236.0 366.4 237.5 366.6 239.1 366.8 240.7 367.0 242.4 367.1 244.2 367.3 246.1 367.5 248.0 367.7 250.0 367.9 252.1 368.1 254.3 368.3 256.5 368.4 258.8 368.6 261.2 368.8 263.7 369.0 266.2 369.2 268.9 369.4 271.6 369.6 274.3 369.7 277.2 369.9 274.4 370.1 271.7 370.3 269.0 370.5 266.4 370.7 263.8 370.9 261.3 371.0 258.9 371.2 256.4 371.4 254.1 371.6 251.8 371.8 249.5 372.0 247.3 372.2 245.2 372.3 243.1 372.5 241.0 372.7 239.0 372.9 237.1 373.1 235.2 373.3 233.3 373.5 231.6 373.6 229.8 373.8 228.1 374.0 226.5 374.2 224.9 374.4 223.4 374.6 221.9 374.8 220.5 375.0 219.1 375.1 217.8 375.3 216.5 375.5 215.3 375.7 214.1 375.9 213.0 376.1 211.9 376.3 210.9 376.4 210.0 376.6 209.1 376.8 208.2 377.0 207.4 377.2 206.7 377.4 206.0 377.6 205.3 377.7 204.7 377.9 204.2 378.1 203.7 378.3 203.2 378.5 202.8 378.7 202.5 378.9 202.2 379.0 202.0 379.2 201.8 379.4 201.7 379.6 201.6 379.8 201.6 380.0 201.6 380.2 201.7 380.3 201.8 380.5 202.0 380.7 202.2 380.9 202.5 381.1 202.9 381.3 203.2 381.5 203.7 381.6 204.2 381.8 204.7 382.0 205.3 382.2 206.0 382.4 206.7 382.6 207.4 382.8 208.3 382.9 209.1 383.1 210.0 383.3 211.0 383.5 212.0 383.7 213.1 383.9 214.2 384.1 215.4 384.3 216.6 384.4 217.9 384.6 219.2 384.8 220.6 385.0 222.0 385.2 223.5 385.4 225.1 385.6 226.7 385.7 228.3 385.9 230.0 386.1 231.7 386.3 233.5 386.5 235.4 386.7 237.3 386.9 239.3 387.0 241.3 387.2 243.3 387.4 245.4 387.6 247.6 387.8 249.8 388.0 252.1 388.2 254.4 388.3 256.8 388.5 259.2 388.7 261.7 388.9 264.2 389.1 266.8 389.3 264.3 389.5 261.8 389.6 259.4 389.8 257.0 390.0 254.7 390.2 252.4 390.4 250.2 390.6 248.0 390.8 245.9 390.9 243.8 391.1 241.7 391.3 239.7 391.5 237.7 391.7 235.8 391.9 233.9 392.1 232.1 392.2 230.3 392.4 228.6 392.6 226.9 392.8 225.2 393.0 223.6 393.2 222.1 393.4 220.6 393.6 219.1 393.7 217.7 393.9 216.3 394.1 214.9 394.3 213.7 394.5 212.4 394.7 211.2 394.9 210.1 395.0 209.0 395.2 207.9 395.4 206.9 395.6 205.9 395.8 205.0 396.0 204.1 396.2 203.3 396.3 202.5 396.5 201.7 396.7 201.0 396.9 200.4 397.1 199.8 397.3 199.2 397.5 198.7 397.6 198.2 397.8 197.8 398.0 197.4 398.2 197.1 398.4 196.8 398.6 196.5 398.8 196.3 398.9 196.1 399.1 196.0 399.3 196.0 399.5 195.9 399.7 196.0 399.9 196.1 400.1 196.3 400.2 196.6 400.4 197.0 400.6 197.4 400.8 198.0 401.0 198.6 401.2 199.3 401.4 200.1 401.5 201.0 401.7 201.9 401.9 203.0 402.1 204.1 402.3 205.3 402.5 206.6 402.7 208.0 402.9 209.5 403.0 211.0 403.2 212.6 403.4 214.3 403.6 216.1 403.8 218.0 404.0 220.0 404.2 222.0 404.3 224.1 404.5 226.3 404.7 228.6 404.9 231.0 405.1 233.5 405.3 236.0 405.5 238.6 405.6 241.4 405.8 244.1 406.0 247.0 406.2 250.0 406.4 253.0 406.6 256.2 406.8 259.4 406.9 262.7 407.1 260.2 407.3 257.8 407.5 255.5 407.7 253.2 407.9 250.9 408.1 248.8 408.2 246.6 408.4 244.5 408.6 242.5 408.8 240.5 409.0 238.6 409.2 236.7 409.4 234.9 409.5 233.1 409.7 231.4 409.9 229.7 410.1 228.1 410.3 226.5 410.5 225.0 410.7 223.5 410.8 222.1 411.0 220.8 411.2 219.4 411.4 218.2 411.6 217.0 411.8 215.8 412.0 214.7 412.2 213.7 412.3 212.6 412.5 211.7 412.7 210.8 412.9 209.9 413.1 209.1 413.3 208.4 413.5 207.7 413.6 207.1 413.8 206.5 414.0 205.9 414.2 205.4 414.4 205.0 414.6 204.6 414.8 204.3 414.9 204.0 415.1 203.8 415.3 203.6 415.5 203.5 415.7 203.4 415.9 203.4 416.1 203.4 416.2 203.5 416.4 203.7 416.6 204.0 416.8 204.4 417.0 204.9 417.2 205.4 417.4 206.1 417.5 206.8 417.7 207.6 417.9 208.5 418.1 209.5 418.3 210.5 418.5 211.7 418.7 212.9 418.8 214.2 419.0 215.6 419.2 217.1 419.4 218.7 419.6 220.3 419.8 222.1 420.0 223.9 420.1 225.8 420.3 227.8 420.5 229.9 420.7 232.0 420.9 234.3 421.1 236.6 421.3 239.0 421.5 241.6 421.6 244.1 421.8 246.8 422.0 249.6 422.2 252.4 422.4 255.3 422.6 258.4 422.8 261.5 422.9 264.6 423.1 267.9 423.3 271.3 423.5 268.2 423.7 265.2 423.9 262.2 424.1 259.3 424.2 256.5 424.4 253.7 424.6 251.1 424.8 248.4 425.0 245.9 425.2 243.4 425.4 240.9 425.5 238.6 425.7 236.3 425.9 234.0 426.1 231.9 426.3 229.7 426.5 227.7 426.7 225.7 426.8 223.8 427.0 222.0 427.2 220.2 427.4 218.5 427.6 216.8 427.8 215.2 428.0 213.7 428.1 212.2 428.3 210.8 428.5 209.5 428.7 208.2 428.9 207.0 429.1 205.9 429.3 204.8 429.4 203.8 429.6 202.9 429.8 202.0 430.0 201.2 430.2 200.5 430.4 199.8 430.6 199.2 430.8 198.6 430.9 198.1 431.1 197.7 431.3 197.3 431.5 197.1 431.7 196.8 431.9 196.7 432.1 196.6 432.2 196.5 432.4 196.6 432.6 196.7 432.8 197.0 433.0 197.3 433.2 197.8 433.4 198.4 433.5 199.0 433.7 199.8 433.9 200.6 434.1 201.6 434.3 202.7 434.5 203.8 434.7 205.1 434.8 206.4 435.0 207.9 435.2 209.5 435.4 211.1 435.6 212.9 435.8 214.8 436.0 216.7 436.1 218.8 436.3 221.0 436.5 223.3 436.7 225.6 436.9 228.1 437.1 230.6 437.3 233.2 437.4 235.7 437.6 238.2 437.8 240.7 438.0 243.2 438.2 245.8 438.4 248.3 438.6 250.8 438.7 253.3 438.9 255.8 439.1 258.4 439.3 260.9 439.5 263.4 439.7 265.9 439.9 268.4 440.1 271.0 440.2 273.5 440.4 276.0 440.6 278.5 440.8 281.0 441.0 283.6 441.2 286.1 441.4 288.6 441.5 291.1 441.7 293.6 441.9 296.2 442.1 298.7 442.3 301.2 442.5 303.7 442.7 306.2 442.8 308.8 443.0 311.3 443.2 313.8 443.4 316.3 443.6 318.8 443.8 321.4 444.0 323.9 444.1 330.1 444.3 330.1 444.5 330.1 444.7 330.1 444.9 332.4 445.1 332.4 445.3 332.4 445.4 332.4 445.6 332.4 445.8 332.4 446.0 6041.3 446.2 6041.3 446.4 6041.3 446.6 6041.3 446.7 6041.3 446.9 6041.3 447.1 6041.3 447.3 6041.3 447.5 6041.3 447.7 6041.3 447.9 6041.3 448.0 6041.3 448.2 6041.3 448.4 6041.3 448.6 6041.3 448.8 6041.3 449.0 6041.3 449.2 6041.3 449.4 6041.3 449.5 6041.3 449.7 6041.3 449.9 6041.3 450.1 6041.3 450.3 6041.3 450.5 331.5 450.7 331.5 450.8 331.5 451.6 331.5 452.7 6041.3 453.8 6041.3 454.9 330.1 456.0 328.3 457.2 6041.3 458.3 6041.3 459.4 6041.3 460.5 329.6 461.6 331.7 462.7 6041.3 463.9 6041.3 465.0 334.9 466.1 330.0 467.2 359.7 468.3 6041.3 469.4 325.6 470.6 6041.3 471.7 6041.3 472.8 334.8 473.9 333.4 475.0 6041.3 476.1 334.0 477.3 336.1 478.4 6041.3 479.5 6041.3 480.6 6041.3 481.7 332.9 482.8 333.3 483.9 332.2 485.1 6041.3 486.2 6041.3 487.3 331.3 488.4 330.0 489.5 6041.3 490.6 6041.3 491.8 6041.3 492.9 6041.3 494.0 333.2 495.1 6041.3 496.2 6041.3 497.3 334.9 498.5 6041.3 499.6 6041.3 500.7 6041.3 501.8 337.2 502.9 6041.3 504.0 336.2 505.2 332.2 506.3 6041.3 507.4 333.4 508.5 6041.3 509.6 6041.3 510.7 330.0 511.8 331.6 513.0 335.2 514.1 6041.3 515.2 6041.3 516.3 335.9 517.4 334.4 518.5 6041.3 519.7 6041.3 520.8 6041.3 521.9 339.6 523.0 335.7 524.1 338.5 525.2 6041.3 526.4 333.4 527.5 332.1 528.6 6041.3 529.7 334.0 530.8 6041.3 531.9 6041.3 533.1 6041.3 534.2 328.3 535.3 325.3 536.4 327.5 537.5 325.6 538.6 6041.3 539.7 333.0 540.9 333.0 542.0 6041.3 543.1 6041.3 544.2 330.1 545.3 336.4 546.4 6041.3 547.6 337.6 548.7 335.5 549.8 6041.3 550.9 6041.3 552.0 333.4 553.1 6041.3 554.3 6041.3 555.4 332.9 556.5 331.9 557.6 6041.3 558.7 336.4 559.8 337.4 561.0 6041.3 562.1 6041.3 563.2 6041.3 564.3 340.1 565.4 335.0 566.5 339.4 567.6 333.0 568.8 6041.3 569.9 6041.3 571.0 6041.3 572.1 6041.3 573.2 328.2 574.3 6041.3 575.5 6041.3 576.6 6041.3 577.7 6041.3 578.8 328.0 579.9 6041.3 581.0 331.0 582.2 352.3 583.3 331.0 584.4 6041.3 585.5 375.1 586.6 6041.3 587.7 337.3 588.9 6041.3 590.0 331.8 591.1 334.9 592.2 6041.3 593.3 6041.3 594.4 332.8 595.5 6041.3 596.7 332.7 597.8 6041.3 598.9 335.0 600.0 6041.3 601.1 6041.3 602.2 327.7 603.4 331.8 604.5 335.9 605.6 6041.3 606.7 6041.3 607.8 6041.3 608.9 329.0 610.1 6041.3 611.2 332.1 612.3 6041.3 613.4 337.4 614.5 6041.3 615.6 326.3 616.8 6041.3 617.9 335.2 619.0 331.9 620.1 6041.3 621.2 6041.3 622.3 336.5 623.4 337.4 624.6 6041.3 625.7 6041.3 626.8 6041.3 627.9 333.4 629.0 335.7 630.1 6041.3 631.3 328.7 632.4 6041.3 633.5 334.5 634.6 361.2 635.7 6041.3 636.8 334.1 638.0 332.7 639.1 380.8 640.2 335.8 641.3 6041.3 642.4 6041.3 643.5 6041.3 644.7 331.5 645.8 329.5 646.9 6041.3 648.0 350.0" stroke="#1f77b4"/>
<path d="M90.0 6041.3 91.1 6041.3 92.2 330.8 93.3 327.3 94.5 332.0 95.6 6041.3 96.7 373.9 97.8 328.1 98.9 6041.3 100.0 337.9 101.2 334.5 102.3 6041.3 103.4 335.9 104.5 330.8 105.6 6041.3 106.7 6041.3 107.9 6041.3 109.0 329.2 110.1 329.2 111.2 6041.3 112.3 6041.3 113.4 335.0 114.6 334.9 115.7 6041.3 116.8 6041.3 117.9 333.6 119.0 333.9 120.1 6041.3 121.2 331.5 122.4 332.3 123.5 329.3 124.6 6041.3 125.7 336.1 126.8 6041.3 127.9 325.9 129.1 321.7 130.2 328.3 131.3 6041.3 132.4 6041.3 133.5 333.2 134.6 6041.3 135.8 333.0 136.9 6041.3 138.0 6041.3 139.1 339.0 140.2 6041.3 141.3 6041.3 142.5 6041.3 143.6 340.4 144.7 339.8 145.8 6041.3 146.9 341.7 148.0 336.8 149.1 337.5 150.3 6041.3 151.4 383.8 152.5 380.5 153.6 329.2 154.7 6041.3 155.8 330.0 157.0 6041.3 158.1 334.7 159.2 6041.3 160.3 338.0 161.4 6041.3 162.5 337.1 163.7 6041.3 164.8 329.8 165.9 334.4 167.0 6041.3 168.1 6041.3 169.2 6041.3 170.4 337.4 171.5 336.7 172.6 338.3 173.7 6041.3 174.8 6041.3 175.9 6041.3 177.0 335.7 178.2 6041.3 179.3 333.7 180.4 330.8 181.5 330.1 182.6 6041.3 183.7 6041.3 184.9 331.5 186.0 6041.3 187.1 6041.3 188.2 331.9 189.3 330.7 190.4 6041.3 191.6 334.5 192.7 335.1 193.8 6041.3 194.9 6041.3 196.0 6041.3 197.1 334.7 198.3 6041.3 199.4 6041.3 200.5 329.9 201.6 6041.3 202.7 6041.3 203.8 6041.3 204.9 337.6 206.1 6041.3 207.2 336.2 208.3 6041.3 209.4 6041.3 210.5 334.6 211.6 6041.3 212.8 6041.3 213.9 6041.3 215.0 339.8 216.1 335.5 217.2 6041.3 218.3 6041.3 219.5 6041.3 220.6 336.8 221.7 333.5 222.8 6041.3 223.9 335.6 225.0 6041.3 226.2 6041.3 227.3 335.1 228.4 6041.3 229.5 6041.3 230.6 331.7 231.7 6041.3 232.8 329.2 234.0 331.1 235.1 367.7 236.2 6041.3 237.3 339.0 238.4 6041.3 239.5 328.0 240.7 336.5 241.8 6041.3 242.9 337.9 244.0 6041.3 245.1 6041.3 246.2 6041.3 247.4 332.9 248.5 331.1 249.6 328.9 250.7 359.0 251.8 333.5 252.9 329.7 254.1 6041.3 255.2 6041.3 256.3 334.7 257.4 338.8 258.5 331.5 259.6 6041.3 260.7 6041.3 261.9 328.7 263.0 331.0 264.1 6041.3 265.2 6041.3 266.3 349.1 267.4 336.8 268.6 335.5 269.7 353.5 270.8 333.1 271.9 331.8 273.0 378.7 274.1 366.3 275.3 332.6 276.4 335.6 277.5 335.7 278.6 332.8 279.7 6041.3 280.8 349.2 282.0 329.9 283.1 335.2 284.2 338.7 285.3 333.9 286.4 6041.3 287.5 6041.3 288.6 331.8 289.8 6041.3 290.9 6041.3 292.0 333.1 293.1 6041.3 294.2 334.0 295.3 6041.3 296.5 6041.3 297.6 332.1 298.7 331.6 299.8 332.7 300.9 333.0 302.0 6041.3 303.2 6041.3 304.3 334.2 305.4 328.3 305.8 6041.3 305.9 6041.3 306.1 6041.3 306.3 6041.3 306.5 327.8 306.7 327.8 306.9 327.8 307.1 327.8 307.2 327.8 307.4 327.8 307.6 329.6 307.8 329.6 308.0 329.6 308.2 329.6 308.4 329.6 308.5 329.6 308.7 327.5 308.9 327.5 309.1 327.5 309.3 327.5 309.5 327.5 309.7 327.5 309.9 6041.3 310.0 6041.3 310.2 6041.3 310.4 6041.3 310.6 6041.3 310.8 6041.3 311.0 322.8 311.2 322.8 311.3 322.8 311.5 322.8 311.7 322.8 311.9 323.7 312.1 322.8 312.3 321.9 312.5 321.0 312.6 320.2 312.8 319.4 313.0 318.5 313.2 317.8 313.4 317.0 313.6 316.2 313.8 315.5 313.9 314.8 314.1 314.1 314.3 313.5 314.5 312.8 314.7 312.2 314.9 311.6 315.1 311.0 315.2 310.4 315.4 309.9 315.6 309.4 315.8 308.9 316.0 308.4 316.2 307.9 316.4 307.5 316.5 307.1 316.7 306.7 316.9 306.3 317.1 305.9 317.3 305.6 317.5 305.3 317.7 305.0 317.8 304.7 318.0 304.5 318.2 304.2 318.4 304.0 318.6 303.8 318.8 303.6 319.0 303.5 319.2 303.4 319.3 303.2 319.5 303.1 319.7 303.1 319.9 303.0 320.1 303.0 320.3 303.0 320.5 303.0 320.6 303.0 320.8 303.1 321.0 303.1 321.2 303.2 321.4 303.3 321.6 303.4 321.8 303.5 321.9 303.7 322.1 303.8 322.3 304.0 322.5 304.2 322.7 304.4 322.9 304.7 323.1 304.9 323.2 305.2 323.4 305.5 323.6 305.8 323.8 306.1 324.0 306.4 324.2 306.8 324.4 307.2 324.5 307.6 324.7 308.0 324.9 308.4 325.1 308.8 325.3 309.3 325.5 309.8 325.7 310.3 325.8 310.8 326.0 311.3 326.2 311.8 326.4 312.4 326.6 313.0 326.8 313.6 327.0 314.2 327.1 314.8 327.3 315.5 327.5 316.2 327.7 316.8 327.9 317.5 328.1 318.3 328.3 319.0 328.5 319.7 328.6 320.5 328.8 321.3 329.0 6041.3 329.2 6041.3 329.4 6041.3 329.6 6041.3 329.8 6041.3 329.9 6041.3 330.1 6041.3 330.3 6041.3 330.5 6041.3 330.7 6041.3 330.9 311.8 331.1 310.0 331.2 308.4 331.4 306.7 331.6 305.1 331.8 303.5 332.0 301.9 332.2 300.3 332.4 298.8 332.5 297.3 332.7 295.9 332.9 294.5 333.1 293.1 333.3 291.7 333.5 290.4 333.7 289.0 333.8 287.8 334.0 286.5 334.2 285.3 334.4 284.1 334.6 282.9 334.8 281.8 335.0 280.7 335.1 279.6 335.3 278.6 335.5 277.6 335.7 276.6 335.9 275.6 336.1 274.7 336.3 273.8 336.4 272.9 336.6 272.1 336.8 271.3 337.0 270.5 337.2 269.8 337.4 269.1 337.6 268.4 337.8 267.7 337.9 267.1 338.1 266.5 338.3 265.9 338.5 265.3 338.7 264.8 338.9 264.3 339.1 263.9 339.2 263.5 339.4 263.1 339.6 262.7 339.8 262.4 340.0 262.1 340.2 261.8 340.4 261.5 340.5 261.3 340.7 261.1 340.9 260.9 341.1 260.8 341.3 260.7 341.5 260.6 341.7 260.6 341.8 260.6 342.0 260.6 342.2 260.7 342.4 260.8 342.6 261.0 342.8 261.2 343.0 261.5 343.1 261.8 343.3 262.2 343.5 262.7 343.7 263.1 343.9 263.7 344.1 264.3 344.3 264.9 344.4 265.6 344.6 266.3 344.8 267.1 345.0 268.0 345.2 268.9 345.4 269.8 345.6 270.8 345.7 271.9 345.9 273.0 346.1 274.1 346.3 275.3 346.5 276.6 346.7 277.9 346.9 279.2 347.1 280.6 347.2 282.1 347.4 283.6 347.6 285.2 347.8 286.8 348.0 288.4 348.2 290.1 348.4 291.9 348.5 293.7 348.7 295.6 348.9 297.5 349.1 299.5 349.3 301.5 349.5 298.3 349.7 295.1 349.8 292.0 350.0 289.0 350.2 286.0 350.4 283.1 350.6 280.2 350.8 277.4 351.0 274.7 351.1 272.0 351.3 269.4 351.5 266.8 351.7 264.3 351.9 261.9 352.1 259.5 352.3 257.2 352.4 254.9 352.6 252.7 352.8 250.6 353.0 248.5 353.2 246.5 353.4 244.6 353.6 242.7 353.7 240.8 353.9 239.0 354.1 237.3 354.3 235.7 354.5 234.1 354.7 232.5 354.9 231.1 355.0 229.7 355.2 228.3 355.4 227.0 355.6 225.8 355.8 224.6 356.0 223.5 356.2 222.4 356.4 221.4 356.5 220.5 356.7 219.6 356.9 218.8 357.1 218.1 357.3 217.4 357.5 216.7 357.7 216.2 357.8 215.7 358.0 215.2 358.2 214.8 358.4 214.5 358.6 214.2 358.8 214.0 359.0 213.9 359.1 213.8 359.3 213.7 359.5 213.8 359.7 213.8 359.9 213.9 360.1 214.1 360.3 214.3 360.4 214.6 360.6 214.9 360.8 215.3 361.0 215.7 361.2 216.1 361.4 216.6 361.6 217.2 361.7 217.8 361.9 218.4 362.1 219.1 362.3 219.8 362.5 220.6 362.7 221.4 362.9 222.3 363.0 223.3 363.2 224.2 363.4 225.3 363.6 226.3 363.8 227.4 364.0 228.6 364.2 229.8 364.3 231.1 364.5 232.4 364.7 233.7 364.9 235.1 365.1 236.6 365.3 238.1 365.5 239.6 365.7 241.2 365.8 242.9 366.0 244.6 366.2 246.3 366.4 248.1 366.6 249.9 366.8 251.8 367.0 253.7 367.1 255.7 367.3 257.7 367.5 259.8 367.7 261.9 367.9 264.1 368.1 266.3 368.3 268.6 368.4 270.9 368.6 273.2 368.8 275.6 369.0 278.1 369.2 280.6 369.4 283.1 369.6 280.1 369.7 277.1 369.9 274.1 370.1 271.2 370.3 268.4 370.5 265.6 370.7 262.9 370.9 260.3 371.0 257.7 371.2 255.1 371.4 252.6 371.6 250.2 371.8 247.8 372.0 245.5 372.2 243.3 372.3 241.1 372.5 238.9 372.7 236.8 372.9 234.8 373.1 232.8 373.3 230.9 373.5 229.1 373.6 227.3 373.8 225.5 374.0 223.8 374.2 222.2 374.4 220.6 374.6 219.1 374.8 217.7 375.0 216.3 375.1 214.9 375.3 213.6 375.5 212.4 375.7 211.2 375.9 210.1 376.1 209.1 376.3 208.1 376.4 207.1 376.6 206.2 376.8 205.4 377.0 204.6 377.2 203.9 377.4 203.3 377.6 202.7 377.7 202.1 377.9 201.6 378.1 201.2 378.3 200.8 378.5 200.5 378.7 200.3 378.9 200.1 379.0 199.9 379.2 199.8 379.4 199.8 379.6 199.8 379.8 199.9 380.0 200.0 380.2 200.2 380.3 200.4 380.5 200.7 380.7 201.1 380.9 201.5 381.1 201.9 381.3 202.4 381.5 202.9 381.6 203.5 381.8 204.2 382.0 204.9 382.2 205.6 382.4 206.4 382.6 207.3 382.8 208.2 382.9 209.1 383.1 210.1 383.3 211.2 383.5 212.3 383.7 213.5 383.9 214.7 384.1 216.0 384.3 217.3 384.4 218.7 384.6 220.1 384.8 221.6 385.0 223.1 385.2 224.7 385.4 226.3 385.6 228.0 385.7 229.7 385.9 231.5 386.1 233.3 386.3 235.2 386.5 237.2 386.7 239.2 386.9 241.2 387.0 243.3 387.2 245.4 387.4 247.6 387.6 249.9 387.8 252.2 388.0 254.6 388.2 257.0 388.3 259.4 388.5 261.9 388.7 264.5 388.9 267.1 389.1 269.8 389.3 266.8 389.5 264.0 389.6 261.1 389.8 258.4 390.0 255.7 390.2 253.0 390.4 250.4 390.6 247.9 390.8 245.4 390.9 243.0 391.1 240.6 391.3 238.3 391.5 236.0 391.7 233.9 391.9 231.7 392.1 229.6 392.2 227.6 392.4 225.6 392.6 223.7 392.8 221.9 393.0 220.1 393.2 218.3 393.4 216.7 393.6 215.0 393.7 213.5 393.9 212.0 394.1 210.5 394.3 209.1 394.5 207.8 394.7 206.5 394.9 205.3 395.0 204.1 395.2 203.0 395.4 201.9 395.6 200.9 395.8 200.0 396.0 199.1 396.2 198.3 396.3 197.5 396.5 196.8 396.7 196.1 396.9 195.5 397.1 195.0 397.3 194.5 397.5 194.1 397.6 193.7 397.8 193.4 398.0 193.1 398.2 192.9 398.4 192.8 398.6 192.7 398.8 192.7 398.9 192.7 399.1 192.8 399.3 192.9 399.5 193.1 399.7 193.3 399.9 193.6 400.1 193.9 400.2 194.3 400.4 194.7 400.6 195.2 400.8 195.7 401.0 196.3 401.2 196.9 401.4 197.6 401.5 198.3 401.7 199.1 401.9 199.9 402.1 200.8 402.3 201.7 402.5 202.6 402.7 203.7 402.9 204.7 403.0 205.9 403.2 207.0 403.4 208.2 403.6 209.5 403.8 210.8 404.0 212.2 404.2 213.6 404.3 215.1 404.5 216.6 404.7 218.2 404.9 219.8 405.1 221.5 405.3 223.2 405.5 225.0 405.6 226.8 405.8 228.6 406.0 230.6 406.2 232.5 406.4 234.6 406.6 236.6 406.8 238.7 406.9 240.9 407.1 243.1 407.3 245.4 407.5 247.7 407.7 250.1 407.9 252.5 408.1 254.9 408.2 252.7 408.4 250.4 408.6 248.3 408.8 246.1 409.0 244.0 409.2 242.0 409.4 240.0 409.5 238.1 409.7 236.2 409.9 234.4 410.1 232.6 410.3 230.9 410.5 229.2 410.7 227.6 410.8 226.0 411.0 224.4 411.2 223.0 411.4 221.5 411.6 220.2 411.8 218.8 412.0 217.6 412.2 216.3 412.3 215.1 412.5 214.0 412.7 212.9 412.9 211.9 413.1 210.9 413.3 210.0 413.5 209.1 413.6 208.3 413.8 207.5 414.0 206.8 414.2 206.1 414.4 205.5 414.6 204.9 414.8 204.4 414.9 203.9 415.1 203.5 415.3 203.1 415.5 202.8 415.7 202.5 415.9 202.3 416.1 202.1 416.2 202.0 416.4 201.9 416.6 201.9 416.8 201.9 417.0 202.0 417.2 202.1 417.4 202.3 417.5 202.5 417.7 202.8 417.9 203.1 418.1 203.5 418.3 203.9 418.5 204.4 418.7 204.9 418.8 205.5 419.0 206.1 419.2 206.8 419.4 207.5 419.6 208.2 419.8 209.1 420.0 209.9 420.1 210.9 420.3 211.8 420.5 212.9 420.7 213.9 420.9 215.0 421.1 216.2 421.3 217.4 421.5 218.7 421.6 220.0 421.8 221.4 422.0 222.8 422.2 224.3 422.4 225.8 422.6 227.4 422.8 229.0 422.9 230.6 423.1 232.4 423.3 234.1 423.5 236.0 423.7 237.8 423.9 239.7 424.1 241.7 424.2 243.7 424.4 245.8 424.6 247.9 424.8 250.1 425.0 252.3 425.2 254.5 425.4 256.9 425.5 259.2 425.7 261.6 425.9 264.1 426.1 266.6 426.3 269.2 426.5 266.7 426.7 264.3 426.8 262.0 427.0 259.7 427.2 257.5 427.4 255.3 427.6 253.2 427.8 251.1 428.0 249.1 428.1 247.2 428.3 245.3 428.5 243.5 428.7 241.7 428.9 240.0 429.1 238.3 429.3 236.7 429.4 235.2 429.6 233.7 429.8 232.2 430.0 230.9 430.2 229.5 430.4 228.3 430.6 227.1 430.8 225.9 430.9 224.8 431.1 223.8 431.3 222.8 431.5 221.8 431.7 221.0 431.9 220.1 432.1 219.4 432.2 218.7 432.4 218.0 432.6 217.4 432.8 216.9 433.0 216.4 433.2 216.0 433.4 215.6 433.5 215.3 433.7 215.1 433.9 214.9 434.1 214.7 434.3 214.7 434.5 214.6 434.7 214.7 434.8 214.9 435.0 215.2 435.2 215.7 435.4 216.3 435.6 217.0 435.8 217.8 436.0 218.8 436.1 219.9 436.3 221.2 436.5 222.5 436.7 224.0 436.9 225.7 437.1 227.4 437.3 229.3 437.4 231.3 437.6 233.5 437.8 235.8 438.0 238.2 438.2 240.7 438.4 243.2 438.6 245.8 438.7 248.3 438.9 250.8 439.1 253.3 439.3 255.8 439.5 258.4 439.7 260.9 439.9 263.4 440.1 265.9 440.2 268.4 440.4 271.0 440.6 273.5 440.8 276.0 441.0 278.5 441.2 281.0 441.4 283.6 441.5 286.1 441.7 288.6 441.9 291.1 442.1 293.6 442.3 296.2 442.5 298.7 442.7 301.2 442.8 303.7 443.0 306.2 443.2 308.8 443.4 311.3 443.6 313.8 443.8 316.3 444.0 318.8 444.1 321.4 444.3 323.9 444.5 329.0 444.7 329.0 444.9 6041.3 445.1 6041.3 445.3 6041.3 445.4 6041.3 445.6 6041.3 445.8 6041.3 446.0 334.8 446.2 334.8 446.4 334.8 446.6 334.8 446.7 334.8 446.9 334.8 447.1 331.1 447.3 331.1 447.5 331.1 447.7 331.1 447.9 331.1 448.0 331.1 448.2 333.7 448.4 333.7 448.6 333.7 448.8 333.7 449.0 333.7 449.2 333.7 449.4 334.5 449.5 334.5 449.7 334.5 449.9 334.5 450.1 334.5 450.3 334.5 450.5 6041.3 450.7 6041.3 450.8 6041.3 451.6 6041.3 452.7 6041.3 453.8 329.4 454.9 325.4 456.0 326.5 457.2 353.7 458.3 6041.3 459.4 331.0 460.5 327.7 461.6 329.9 462.7 6041.3 463.9 372.7 465.0 335.6 466.1 6041.3 467.2 6041.3 468.3 6041.3 469.4 329.1 470.6 330.8 471.7 6041.3 472.8 6041.3 473.9 334.4 475.0 333.3 476.1 6041.3 477.3 6041.3 478.4 322.6 479.5 6041.3 480.6 327.1 481.7 324.0 482.8 327.2 483.9 6041.3 485.1 331.3 486.2 6041.3 487.3 327.1 488.4 6041.3 489.5 338.1 490.6 6041.3 491.8 328.4 492.9 6041.3 494.0 6041.3 495.1 333.0 496.2 326.8 497.3 333.8 498.5 6041.3 499.6 326.2 500.7 334.9 501.8 6041.3 502.9 328.3 504.0 333.0 505.2 6041.3 506.3 6041.3 507.4 332.7 508.5 334.3 509.6 330.9 510.7 372.9 511.8 327.5 513.0 6041.3 514.1 6041.3 515.2 333.0 516.3 336.3 517.4 333.8 518.5 337.4 519.7 6041.3 520.8 6041.3 521.9 335.7 523.0 337.0 524.1 6041.3 525.2 328.2 526.4 332.5 527.5 6041.3 528.6 6041.3 529.7 6041.3 530.8 330.4 531.9 6041.3 533.1 330.6 534.2 333.4 535.3 6041.3 536.4 329.4 537.5 328.9 538.6 374.6 539.7 330.5 540.9 6041.3 542.0 332.8 543.1 329.7 544.2 328.7 545.3 6041.3 546.4 376.6 547.6 334.0 548.7 328.0 549.8 6041.3 550.9 336.8 552.0 6041.3 553.1 334.9 554.3 6041.3 555.4 6041.3 556.5 6041.3 557.6 6041.3 558.7 329.2 559.8 333.6 561.0 6041.3 562.1 6041.3 563.2 6041.3 564.3 329.8 565.4 333.9 566.5 333.0 567.6 6041.3 568.8 328.4 569.9 6041.3 571.0 6041.3 572.1 6041.3 573.2 6041.3 574.3 334.9 575.5 334.7 576.6 6041.3 577.7 6041.3 578.8 335.7 579.9 336.6 581.0 335.9 582.2 6041.3 583.3 6041.3 584.4 336.8 585.5 6041.3 586.6 337.1 587.7 6041.3 588.9 366.9 590.0 330.5 591.1 6041.3 592.2 6041.3 593.3 326.1 594.4 6041.3 595.5 6041.3 596.7 324.8 597.8 325.2 598.9 6041.3 600.0 333.9 601.1 6041.3 602.2 6041.3 603.4 335.4 604.5 331.5 605.6 6041.3 606.7 335.2 607.8 6041.3 608.9 6041.3 610.1 6041.3 611.2 6041.3 612.3 333.0 613.4 329.6 614.5 6041.3 615.6 338.2 616.8 333.5 617.9 338.2 619.0 335.9 620.1 371.9 621.2 6041.3 622.3 332.8 623.4 6041.3 624.6 335.0 625.7 332.2 626.8 6041.3 627.9 6041.3 629.0 330.0 630.1 6041.3 631.3 335.0 632.4 356.0 633.5 6041.3 634.6 6041.3 635.7 6041.3 636.8 6041.3 638.0 329.7 639.1 6041.3 640.2 6041.3 641.3 329.3 642.4 6041.3 643.5 6041.3 644.7 361.5 645.8 329.9 646.9 6041.3 648.0 6041.3" stroke="#17becf"/>
<path d="M90.0 6041.3 91.1 332.3 92.2 6041.3 93.3 336.6 94.5 340.3 95.6 340.9 96.7 6041.3 97.8 6041.3 98.9 6041.3 100.0 6041.3 101.2 339.0 102.3 335.8 103.4 6041.3 104.5 331.8 105.6 333.5 106.7 6041.3 107.9 6041.3 109.0 339.0 110.1 338.5 111.2 6041.3 112.3 6041.3 113.4 6041.3 114.6 338.4 115.7 6041.3 116.8 6041.3 117.9 334.3 119.0 338.8 120.1 6041.3 121.2 6041.3 122.4 334.8 123.5 334.8 124.6 6041.3 125.7 6041.3 126.8 332.0 127.9 339.9 129.1 6041.3 130.2 6041.3 131.3 332.0 132.4 329.9 133.5 6041.3 134.6 6041.3 135.8 6041.3 136.9 6041.3 138.0 6041.3 139.1 6041.3 140.2 332.1 141.3 330.5 142.5 332.6 143.6 328.3 144.7 6041.3 145.8 6041.3 146.9 332.3 148.0 331.6 149.1 352.4 150.3 341.9 151.4 336.8 152.5 6041.3 153.6 334.8 154.7 333.0 155.8 339.1 157.0 6041.3 158.1 6041.3 159.2 335.6 160.3 331.4 161.4 337.2 162.5 335.5 163.7 336.7 164.8 330.5 165.9 6041.3 167.0 325.5 168.1 6041.3 169.2 339.5 170.4 338.5 171.5 6041.3 172.6 336.0 173.7 6041.3 174.8 6041.3 175.9 6041.3 177.0 331.1 178.2 331.0 179.3 332.5 180.4 336.3 181.5 6041.3 182.6 383.4 183.7 339.5 184.9 338.2 186.0 340.5 187.1 6041.3 188.2 332.7 189.3 333.9 190.4 6041.3 191.6 335.7 192.7 335.5 193.8 6041.3 194.9 351.8 196.0 6041.3 197.1 334.7 198.3 331.4 199.4 333.5 200.5 6041.3 201.6 6041.3 202.7 6041.3 203.8 334.6 204.9 6041.3 206.1 6041.3 207.2 6041.3 208.3 6041.3 209.4 337.9 210.5 337.1 211.6 339.2 212.8 342.1 213.9 6041.3 215.0 338.8 216.1 333.6 217.2 334.7 218.3 338.1 219.5 371.9 220.6 340.3 221.7 345.7 222.8 343.9 223.9 341.4 225.0 6041.3 226.2 6041.3 227.3 329.1 228.4 6041.3 229.5 330.2 230.6 340.1 231.7 334.4 232.8 339.2 234.0 336.7 235.1 335.4 236.2 6041.3 237.3 6041.3 238.4 338.2 239.5 340.8 240.7 6041.3 241.8 6041.3 242.9 340.0 244.0 340.9 245.1 6041.3 246.2 6041.3 247.4 341.2 248.5 336.4 249.6 336.8 250.7 340.7 251.8 340.2 252.9 339.3 254.1 337.4 255.2 6041.3 256.3 333.8 257.4 333.3 258.5 330.7 259.6 333.5 260.7 6041.3 261.9 340.6 263.0 337.9 264.1 338.1 265.2 6041.3 266.3 6041.3 267.4 331.5 268.6 331.2 269.7 335.1 270.8 6041.3 271.9 338.9 273.0 339.4 274.1 342.9 275.3 339.7 276.4 6041.3 277.5 333.3 278.6 332.0 279.7 358.4 280.8 6041.3 282.0 335.4 283.1 335.4 284.2 6041.3 285.3 6041.3 286.4 338.0 287.5 331.6 288.6 337.8 289.8 333.8 290.9 6041.3 292.0 6041.3 293.1 332.7 294.2 334.6 295.3 332.6 296.5 6041.3 297.6 328.5 298.7 336.5 299.8 333.2 300.9 333.7 302.0 342.1 303.2 6041.3 304.3 6041.3 305.4 330.7 305.8 330.9 305.9 330.9 306.1 330.9 306.3 330.9 306.5 6041.3 306.7 6041.3 306.9 6041.3 307.1 6041.3 307.2 6041.3 307.4 6041.3 307.6 331.4 307.8 331.4 308.0 331.4 308.2 331.4 308.4 331.4 308.5 331.4 308.7 329.1 308.9 329.1 309.1 329.1 309.3 329.1 309.5 329.1 309.7 329.1 309.9 6041.3 310.0 6041.3 310.2 6041.3 310.4 6041.3 310.6 6041.3 310.8 6041.3 311.0 322.6 311.2 322.6 311.3 322.6 311.5 322.6 311.7 322.6 311.9 323.6 312.1 322.6 312.3 321.6 312.5 320.7 312.6 319.8 312.8 318.8 313.0 318.0 313.2 317.1 313.4 316.3 313.6 315.4 313.8 314.6 313.9 313.9 314.1 313.1 314.3 312.4 314.5 311.7 314.7 311.0 314.9 310.3 315.1 309.7 315.2 309.1 315.4 308.5 315.6 307.9 315.8 307.4 316.0 306.8 316.2 306.3 316.4 305.9 316.5 305.4 316.7 305.0 316.9 304.5 317.1 304.1 317.3 303.8 317.5 303.4 317.7 303.1 317.8 302.8 318.0 302.5 318.2 302.3 318.4 302.0 318.6 301.8 318.8 301.6 319.0 301.5 319.2 301.3 319.3 301.2 319.5 301.1 319.7 301.0 319.9 301.0 320.1 300.9 320.3 300.9 320.5 300.9 320.6 300.9 320.8 301.0 321.0 301.1 321.2 301.1 321.4 301.2 321.6 301.4 321.8 301.5 321.9 301.7 322.1 301.9 322.3 302.1 322.5 302.3 322.7 302.5 322.9 302.8 323.1 303.0 323.2 303.3 323.4 303.6 323.6 304.0 323.8 304.3 324.0 304.7 324.2 305.1 324.4 305.5 324.5 305.9 324.7 306.4 324.9 306.8 325.1 307.3 325.3 307.8 325.5 308.3 325.7 308.9 325.8 309.4 326.0 310.0 326.2 310.6 326.4 311.2 326.6 311.9 326.8 312.5 327.0 313.2 327.1 313.9 327.3 314.6 327.5 315.3 327.7 316.1 327.9 316.9 328.1 317.6 328.3 318.5 328.5 319.3 328.6 320.1 328.8 321.0 329.0 321.9 329.2 6041.3 329.4 6041.3 329.6 6041.3 329.8 6041.3 329.9 6041.3 330.1 6041.3 330.3 6041.3 330.5 6041.3 330.7 311.9 330.9 309.9 331.1 307.9 331.2 305.9 331.4 304.0 331.6 302.2 331.8 300.3 332.0 298.5 332.2 296.7 332.4 295.0 332.5 293.3 332.7 291.6 332.9 290.0 333.1 288.4 333.3 286.8 333.5 285.3 333.7 283.8 333.8 282.3 334.0 280.9 334.2 279.5 334.4 278.1 334.6 276.8 334.8 275.5 335.0 274.2 335.1 273.0 335.3 271.8 335.5 270.6 335.7 269.5 335.9 268.4 336.1 267.3 336.3 266.3 336.4 265.3 336.6 264.3 336.8 263.4 337.0 262.5 337.2 261.6 337.4 260.8 337.6 260.0 337.8 259.3 337.9 258.5 338.1 257.8 338.3 257.2 338.5 256.6 338.7 256.0 338.9 255.4 339.1 254.9 339.2 254.4 339.4 253.9 339.6 253.5 339.8 253.1 340.0 252.8 340.2 252.5 340.4 252.2 340.5 251.9 340.7 251.7 340.9 251.5 341.1 251.4 341.3 251.2 341.5 251.2 341.7 251.1 341.8 251.1 342.0 251.1 342.2 251.2 342.4 251.4 342.6 251.6 342.8 251.9 343.0 252.3 343.1 252.7 343.3 253.2 343.5 253.7 343.7 254.3 343.9 255.0 344.1 255.8 344.3 256.6 344.4 257.5 344.6 258.4 344.8 259.4 345.0 260.5 345.2 261.6 345.4 262.8 345.6 264.1 345.7 265.4 345.9 266.8 346.1 268.3 346.3 269.8 346.5 271.4 346.7 273.0 346.9 274.7 347.1 276.5 347.2 278.4 347.4 280.3 347.6 282.3 347.8 284.3 348.0 286.4 348.2 288.6 348.4 290.8 348.5 293.1 348.7 295.5 348.9 297.9 349.1 294.6 349.3 291.4 349.5 288.2 349.7 285.1 349.8 282.1 350.0 279.1 350.2 276.2 350.4 273.3 350.6 270.6 350.8 267.8 351.0 265.2 351.1 262.6 351.3 260.1 351.5 257.7 351.7 255.3 351.9 253.0 352.1 250.7 352.3 248.6 352.4 246.5 352.6 244.4 352.8 242.5 353.0 240.5 353.2 238.7 353.4 236.9 353.6 235.2 353.7 233.6 353.9 232.0 354.1 230.5 354.3 229.1 354.5 227.7 354.7 226.4 354.9 225.2 355.0 224.0 355.2 222.9 355.4 221.9 355.6 220.9 355.8 220.0 356.0 219.1 356.2 218.4 356.4 217.7 356.5 217.0 356.7 216.5 356.9 216.0 357.1 215.5 357.3 215.2 357.5 214.9 357.7 214.6 357.8 214.5 358.0 214.4 358.2 214.3 358.4 214.3 358.6 214.4 358.8 214.5 359.0 214.6 359.1 214.8 359.3 215.0 359.5 215.3 359.7 215.5 359.9 215.9 360.1 216.2 360.3 216.6 360.4 217.1 360.6 217.6 360.8 218.1 361.0 218.6 361.2 219.2 361.4 219.8 361.6 220.5 361.7 221.2 361.9 222.0 362.1 222.7 362.3 223.6 362.5 224.4 362.7 225.3 362.9 226.3 363.0 227.2 363.2 228.3 363.4 229.3 363.6 230.4 363.8 231.5 364.0 232.7 364.2 233.9 364.3 235.1 364.5 236.4 364.7 237.7 364.9 239.1 365.1 240.5 365.3 241.9 365.5 243.4 365.7 244.9 365.8 246.4 366.0 248.0 366.2 249.6 366.4 251.3 366.6 253.0 366.8 254.7 367.0 256.5 367.1 258.3 367.3 260.2 367.5 262.1 367.7 264.0 367.9 266.0 368.1 268.0 368.3 270.0 368.4 272.1 368.6 274.2 368.8 271.4 369.0 268.5 369.2 265.8 369.4 263.1 369.6 260.4 369.7 257.8 369.9 255.3 370.1 252.8 370.3 250.4 370.5 248.0 370.7 245.7 370.9 243.5 371.0 241.3 371.2 239.1 371.4 237.0 371.6 235.0 371.8 233.0 372.0 231.1 372.2 229.2 372.3 227.4 372.5 225.7 372.7 224.0 372.9 222.3 373.1 220.7 373.3 219.2 373.5 217.7 373.6 216.3 373.8 215.0 374.0 213.6 374.2 212.4 374.4 211.2 374.6 210.0 374.8 209.0 375.0 207.9 375.1 207.0 375.3 206.0 375.5 205.2 375.7 204.4 375.9 203.6 376.1 202.9 376.3 202.3 376.4 201.7 376.6 201.2 376.8 200.7 377.0 200.3 377.2 199.9 377.4 199.6 377.6 199.4 377.7 199.2 377.9 199.0 378.1 198.9 378.3 198.9 378.5 198.9 378.7 199.0 378.9 199.1 379.0 199.3 379.2 199.5 379.4 199.8 379.6 200.1 379.8 200.4 380.0 200.8 380.2 201.3 380.3 201.8 380.5 202.3 380.7 202.9 380.9 203.5 381.1 204.2 381.3 204.9 381.5 205.7 381.6 206.5 381.8 207.4 382.0 208.3 382.2 209.3 382.4 210.3 382.6 211.3 382.8 212.4 382.9 213.6 383.1 214.8 383.3 216.0 383.5 217.3 383.7 218.7 383.9 220.0 384.1 221.5 384.3 223.0 384.4 224.5 384.6 226.1 384.8 227.7 385.0 229.4 385.2 231.1 385.4 232.8 385.6 234.6 385.7 236.5 385.9 238.4 386.1 240.3 386.3 242.3 386.5 244.4 386.7 246.5 386.9 248.6 387.0 250.8 387.2 253.0 387.4 255.3 387.6 257.6 387.8 260.0 388.0 262.4 388.2 264.9 388.3 267.4 388.5 264.9 388.7 262.5 388.9 260.1 389.1 257.7 389.3 255.4 389.5 253.1 389.6 250.9 389.8 248.7 390.0 246.5 390.2 244.4 390.4 242.4 390.6 240.3 390.8 238.4 390.9 236.4 391.1 234.6 391.3 232.7 391.5 230.9 391.7 229.2 391.9 227.4 392.1 225.8 392.2 224.1 392.4 222.6 392.6 221.0 392.8 219.5 393.0 218.1 393.2 216.7 393.4 215.3 393.6 214.0 393.7 212.7 393.9 211.5 394.1 210.3 394.3 209.1 394.5 208.0 394.7 207.0 394.9 205.9 395.0 205.0 395.2 204.0 395.4 203.1 395.6 202.3 395.8 201.5 396.0 200.7 396.2 200.0 396.3 199.3 396.5 198.7 396.7 198.1 396.9 197.6 397.1 197.1 397.3 196.6 397.5 196.2 397.6 195.8 397.8 195.5 398.0 195.2 398.2 195.0 398.4 194.8 398.6 194.7 398.8 194.5 398.9 194.5 399.1 194.5 399.3 194.5 399.5 194.6 399.7 194.7 399.9 194.9 400.1 195.2 400.2 195.5 400.4 195.8 400.6 196.3 400.8 196.7 401.0 197.3 401.2 197.9 401.4 198.5 401.5 199.2 401.7 200.0 401.9 200.8 402.1 201.7 402.3 202.6 402.5 203.6 402.7 204.6 402.9 205.7 403.0 206.9 403.2 208.1 403.4 209.4 403.6 210.7 403.8 212.1 404.0 213.5 404.2 215.0 404.3 216.6 404.5 218.2 404.7 219.8 404.9 221.5 405.1 223.3 405.3 225.2 405.5 227.0 405.6 229.0 405.8 231.0 406.0 233.0 406.2 235.2 406.4 237.3 406.6 239.6 406.8 241.8 406.9 244.2 407.1 246.6 407.3 249.0 407.5 251.5 407.7 254.1 407.9 256.7 408.1 259.4 408.2 257.0 408.4 254.6 408.6 252.3 408.8 250.1 409.0 247.8 409.2 245.7 409.4 243.6 409.5 241.5 409.7 239.5 409.9 237.5 410.1 235.6 410.3 233.7 410.5 231.9 410.7 230.1 410.8 228.4 411.0 226.7 411.2 225.1 411.4 223.5 411.6 222.0 411.8 220.5 412.0 219.1 412.2 217.7 412.3 216.3 412.5 215.0 412.7 213.8 412.9 212.6 413.1 211.5 413.3 210.4 413.5 209.3 413.6 208.3 413.8 207.4 414.0 206.5 414.2 205.6 414.4 204.8 414.6 204.1 414.8 203.4 414.9 202.7 415.1 202.1 415.3 201.6 415.5 201.0 415.7 200.6 415.9 200.2 416.1 199.8 416.2 199.5 416.4 199.2 416.6 199.0 416.8 198.8 417.0 198.7 417.2 198.6 417.4 198.6 417.5 198.7 417.7 198.8 417.9 199.0 418.1 199.3 418.3 199.7 418.5 200.1 418.7 200.7 418.8 201.3 419.0 202.0 419.2 202.8 419.4 203.7 419.6 204.6 419.8 205.7 420.0 206.8 420.1 208.0 420.3 209.3 420.5 210.7 420.7 212.1 420.9 213.7 421.1 215.3 421.3 217.0 421.5 218.8 421.6 220.7 421.8 222.6 422.0 224.7 422.2 226.8 422.4 229.0 422.6 231.3 422.8 233.7 422.9 236.1 423.1 238.7 423.3 241.3 423.5 244.0 423.7 246.8 423.9 249.7 424.1 252.7 424.2 255.7 424.4 258.8 424.6 262.0 424.8 265.3 425.0 263.4 425.2 261.6 425.4 259.8 425.5 258.0 425.7 256.3 425.9 254.6 426.1 253.0 426.3 251.4 426.5 249.8 426.7 248.3 426.8 246.8 427.0 245.3 427.2 243.9 427.4 242.6 427.6 241.2 427.8 240.0 428.0 238.7 428.1 237.5 428.3 236.3 428.5 235.2 428.7 234.1 428.9 233.1 429.1 232.1 429.3 231.1 429.4 230.1 429.6 229.3 429.8 228.4 430.0 227.6 430.2 226.8 430.4 226.1 430.6 225.4 430.8 224.7 430.9 224.1 431.1 223.5 431.3 223.0 431.5 222.5 431.7 222.1 431.9 221.6 432.1 221.3 432.2 220.9 432.4 220.6 432.6 220.4 432.8 220.2 433.0 220.0 433.2 219.8 433.4 219.7 433.5 219.7 433.7 219.7 433.9 219.7 434.1 219.8 434.3 220.0 434.5 220.3 434.7 220.7 434.8 221.1 435.0 221.6 435.2 222.2 435.4 222.9 435.6 223.7 435.8 224.5 436.0 225.5 436.1 226.5 436.3 227.6 436.5 228.7 436.7 230.0 436.9 231.3 437.1 232.7 437.3 234.2 437.4 235.8 437.6 237.4 437.8 239.2 438.0 241.0 438.2 242.9 438.4 244.8 438.6 246.9 438.7 249.0 438.9 251.2 439.1 253.5 439.3 255.9 439.5 258.4 439.7 260.9 439.9 263.4 440.1 265.9 440.2 268.4 440.4 271.0 440.6 273.5 440.8 276.0 441.0 278.5 441.2 281.0 441.4 283.6 441.5 286.1 441.7 288.6 441.9 291.1 442.1 293.6 442.3 296.2 442.5 298.7 442.7 301.2 442.8 303.7 443.0 306.2 443.2 308.8 443.4 311.3 443.6 313.8 443.8 316.3 444.0 318.8 444.1 321.4 444.3 323.9 444.5 332.8 444.7 332.8 444.9 6041.3 445.1 6041.3 445.3 6041.3 445.4 6041.3 445.6 6041.3 445.8 6041.3 446.0 330.8 446.2 330.8 446.4 330.8 446.6 330.8 446.7 330.8 446.9 330.8 447.1 6041.3 447.3 6041.3 447.5 6041.3 447.7 6041.3 447.9 6041.3 448.0 6041.3 448.2 329.5 448.4 329.5 448.6 329.5 448.8 329.5 449.0 329.5 449.2 329.5 449.4 326.2 449.5 326.2 449.7 326.2 449.9 326.2 450.1 326.2 450.3 326.2 450.5 330.0 450.7 330.0 450.8 330.0 451.6 330.0 452.7 328.5 453.8 6041.3 454.9 6041.3 456.0 333.9 457.2 334.3 458.3 6041.3 459.4 6041.3 460.5 339.9 461.6 336.0 462.7 340.6 463.9 6041.3 465.0 335.7 466.1 338.3 467.2 339.6 468.3 337.0 469.4 6041.3 470.6 6041.3 471.7 6041.3 472.8 6041.3 473.9 334.8 475.0 332.5 476.1 6041.3 477.3 6041.3 478.4 6041.3 479.5 6041.3 480.6 339.6 481.7 341.5 482.8 6041.3 483.9 6041.3 485.1 335.8 486.2 336.9 487.3 336.4 488.4 6041.3 489.5 336.8 490.6 337.1 491.8 6041.3 492.9 6041.3 494.0 337.5 495.1 336.0 496.2 6041.3 497.3 329.2 498.5 327.8 499.6 332.7 500.7 327.3 501.8 328.0 502.9 6041.3 504.0 6041.3 505.2 338.2 506.3 338.9 507.4 6041.3 508.5 6041.3 509.6 6041.3 510.7 338.3 511.8 339.9 513.0 339.3 514.1 337.1 515.2 6041.3 516.3 328.9 517.4 333.3 518.5 6041.3 519.7 6041.3 520.8 338.7 521.9 6041.3 523.0 6041.3 524.1 341.6 525.2 336.6 526.4 339.2 527.5 338.6 528.6 339.0 529.7 6041.3 530.8 6041.3 531.9 380.2 533.1 336.3 534.2 336.4 535.3 337.5 536.4 330.8 537.5 6041.3 538.6 6041.3 539.7 336.8 540.9 6041.3 542.0 6041.3 543.1 340.4 544.2 331.0 545.3 6041.3 546.4 379.9 547.6 334.4 548.7 333.2 549.8 6041.3 550.9 370.3 552.0 378.3 553.1 6041.3 554.3 375.0 555.4 339.2 556.5 336.8 557.6 6041.3 558.7 338.8 559.8 335.5 561.0 358.1 562.1 6041.3 563.2 6041.3 564.3 6041.3 565.4 346.1 566.5 6041.3 567.6 6041.3 568.8 331.6 569.9 6041.3 571.0 6041.3 572.1 332.9 573.2 329.8 574.3 324.0 575.5 6041.3 576.6 340.9 577.7 346.4 578.8 6041.3 579.9 6041.3 581.0 337.5 582.2 337.2 583.3 6041.3 584.4 328.3 585.5 377.5 586.6 6041.3 587.7 6041.3 588.9 332.7 590.0 334.0 591.1 333.3 592.2 335.0 593.3 378.8 594.4 6041.3 595.5 340.2 596.7 337.3 597.8 337.1 598.9 6041.3 600.0 6041.3 601.1 335.5 602.2 335.4 603.4 6041.3 604.5 336.8 605.6 339.5 606.7 340.4 607.8 338.8 608.9 337.4 610.1 337.5 611.2 6041.3 612.3 6041.3 613.4 6041.3 614.5 332.7 615.6 6041.3 616.8 6041.3 617.9 329.3 619.0 6041.3 620.1 337.2 621.2 336.7 622.3 6041.3 623.4 6041.3 624.6 6041.3 625.7 333.9 626.8 334.2 627.9 6041.3 629.0 6041.3 630.1 335.3 631.3 338.3 632.4 338.0 633.5 363.5 634.6 340.0 635.7 6041.3 636.8 6041.3 638.0 380.7 639.1 332.3 640.2 335.8 641.3 335.9 642.4 6041.3 643.5 6041.3 644.7 337.1 645.8 335.3 646.9 337.3 648.0 329.9" stroke="#7f7f7f"/>
</g>
<rect x="90.5" y="52.5" width="558" height="326" fill="none" stroke="#cccccc" stroke-width="1"/>
<rect x="97.5" y="59.5" width="87" height="152" rx="3" ry="3" fill="#fff" fill-opacity="0.8" stroke="#cccccc" stroke-width="1"/>
<path d="M103 71H132" stroke="#bcbd22" stroke-width="2" stroke-linecap="round"/>
<text x="143" y="75.90" font-size="14.5">Ch. 1</text>
<path d="M103 92H132" stroke="#ff7f0e" stroke-width="2" stroke-linecap="round"/>
<text x="143" y="97.10" font-size="14.5">Ch. 2</text>
<path d="M103 113H132" stroke="#d62728" stroke-width="2" stroke-linecap="round"/>
<text x="143" y="118.30" font-size="14.5">Ch. 3</text>
<path d="M103 134H132" stroke="#9467bd" stroke-width="2" stroke-linecap="round"/>
<text x="143" y="139.50" font-size="14.5">Ch. 4</text>
<path d="M103 156H132" stroke="#1f77b4" stroke-width="2" stroke-linecap="round"/>
<text x="143" y="160.70" font-size="14.5">Ch. 5</text>
<path d="M103 177H132" stroke="#17becf" stroke-width="2" stroke-linecap="round"/>
<text x="143" y="181.90" font-size="14.5">Ch. 6</text>
<path d="M103 198H132" stroke="#7f7f7f" stroke-width="2" stroke-linecap="round"/>
<text x="143" y="203.10" font-size="14.5">Ch. 7</text>
<text transform="translate(86.2 56.80) scale(0.97 1.08)" font-size="14.0" text-anchor="end">20</text>
<text transform="translate(86.2 115.80) scale(0.97 1.08)" font-size="14.0" text-anchor="end">0</text>
<text transform="translate(86.2 174.80) scale(0.97 1.08)" font-size="14.0" text-anchor="end">−20</text>
<text transform="translate(86.2 234.80) scale(0.97 1.08)" font-size="14.0" text-anchor="end">−40</text>
<text transform="translate(86.2 293.80) scale(0.97 1.08)" font-size="14.0" text-anchor="end">−60</text>
<text transform="translate(86.2 352.80) scale(0.97 1.08)" font-size="14.0" text-anchor="end">−80</text>
<text transform="translate(90.00 391.3) scale(0.97 1.08)" font-size="14.0" text-anchor="middle">840</text>
<text transform="translate(164.40 391.3) scale(0.97 1.08)" font-size="14.0" text-anchor="middle">842</text>
<text transform="translate(238.80 391.3) scale(0.97 1.08)" font-size="14.0" text-anchor="middle">844</text>
<text transform="translate(313.20 391.3) scale(0.97 1.08)" font-size="14.0" text-anchor="middle">846</text>
<text transform="translate(387.60 391.3) scale(0.97 1.08)" font-size="14.0" text-anchor="middle">848</text>
<text transform="translate(462.00 391.3) scale(0.97 1.08)" font-size="14.0" text-anchor="middle">850</text>
<text transform="translate(536.40 391.3) scale(0.97 1.08)" font-size="14.0" text-anchor="middle">852</text>
<text transform="translate(610.80 391.3) scale(0.97 1.08)" font-size="14.0" text-anchor="middle">854</text>
<text x="368.6" y="412" font-size="17.3" text-anchor="middle">Wavelength [nm]</text>
<text transform="translate(53.8 214.2) rotate(-90)" x="0" y="0" font-size="17.3" text-anchor="middle">Optical Power [dB]</text>
<text x="368.4" y="45.6" font-size="17.2" text-anchor="middle">D4496 V20372 OptoBoard QA</text>
</svg></body></html>
